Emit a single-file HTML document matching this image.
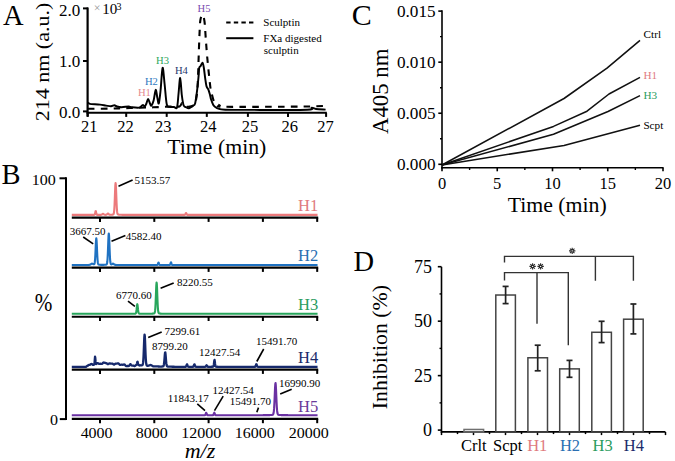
<!DOCTYPE html>
<html><head><meta charset="utf-8"><style>
html,body{margin:0;padding:0;background:#fff;width:675px;height:461px;overflow:hidden}
svg{display:block}
text{font-family:"Liberation Serif", serif}
</style></head><body>
<svg width="675" height="461" viewBox="0 0 675 461">
<rect width="675" height="461" fill="#fff"/>
<text x="3.0" y="25.0" font-size="28.5" text-anchor="start" fill="#000" >A</text>
<line x1="87.60" y1="7.50" x2="87.60" y2="116.50" stroke="#000" stroke-width="2.2" />
<line x1="86.50" y1="112.70" x2="326.80" y2="112.70" stroke="#000" stroke-width="2.0" />
<line x1="83.00" y1="8.40" x2="88.00" y2="8.40" stroke="#000" stroke-width="2" />
<line x1="83.00" y1="61.00" x2="88.00" y2="61.00" stroke="#000" stroke-width="2" />
<line x1="83.00" y1="111.40" x2="88.00" y2="111.40" stroke="#000" stroke-width="2" />
<line x1="87.70" y1="112.70" x2="87.70" y2="116.90" stroke="#000" stroke-width="2" />
<line x1="126.20" y1="112.70" x2="126.20" y2="116.90" stroke="#000" stroke-width="2" />
<line x1="166.70" y1="112.70" x2="166.70" y2="116.90" stroke="#000" stroke-width="2" />
<line x1="206.80" y1="112.70" x2="206.80" y2="116.90" stroke="#000" stroke-width="2" />
<line x1="247.90" y1="112.70" x2="247.90" y2="116.90" stroke="#000" stroke-width="2" />
<line x1="288.00" y1="112.70" x2="288.00" y2="116.90" stroke="#000" stroke-width="2" />
<line x1="326.10" y1="112.70" x2="326.10" y2="116.90" stroke="#000" stroke-width="2" />
<text x="80.2" y="16.4" font-size="17" text-anchor="end" fill="#000" >2.0</text>
<text x="80.2" y="67.2" font-size="17" text-anchor="end" fill="#000" >1.0</text>
<text x="80.2" y="118.2" font-size="17" text-anchor="end" fill="#000" >0.0</text>
<text x="89.3" y="131.8" font-size="16.5" text-anchor="middle" fill="#000" >21</text>
<text x="125.5" y="131.8" font-size="16.5" text-anchor="middle" fill="#000" >22</text>
<text x="163.2" y="131.8" font-size="16.5" text-anchor="middle" fill="#000" >23</text>
<text x="208.3" y="131.8" font-size="16.5" text-anchor="middle" fill="#000" >24</text>
<text x="249.9" y="131.8" font-size="16.5" text-anchor="middle" fill="#000" >25</text>
<text x="289.8" y="131.8" font-size="16.5" text-anchor="middle" fill="#000" >26</text>
<text x="325.4" y="131.8" font-size="16.5" text-anchor="middle" fill="#000" >27</text>
<text x="216.8" y="153.6" font-size="21.8" text-anchor="middle" fill="#000" >Time (min)</text>
<text transform="translate(48.8,62) rotate(-90) scale(1,0.9)" font-size="22" text-anchor="middle">214 nm (a.u.)</text>
<text x="93.8" y="12.0" font-size="12" text-anchor="start" fill="#999" >×</text>
<text x="102.3" y="13.9" font-size="15" text-anchor="start" fill="#000" >10</text>
<text x="116.6" y="9.6" font-size="10" text-anchor="start" fill="#000" >3</text>
<line x1="226.20" y1="22.40" x2="253.40" y2="22.40" stroke="#000" stroke-width="2" stroke-dasharray="4.4 3.2"/>
<line x1="226.20" y1="38.20" x2="253.40" y2="38.20" stroke="#000" stroke-width="2" />
<text x="263.3" y="25.5" font-size="11" text-anchor="start" fill="#000" >Sculptin</text>
<text x="263.3" y="41.6" font-size="11" text-anchor="start" fill="#000" >FXa digested</text>
<text x="263.8" y="53.9" font-size="11" text-anchor="start" fill="#000" >sculptin</text>
<text x="137.9" y="95.9" font-size="10.6" text-anchor="start" fill="#e58b8f" >H1</text>
<text x="144.9" y="84.9" font-size="10.6" text-anchor="start" fill="#2f78c0" >H2</text>
<text x="156.1" y="63.9" font-size="10.6" text-anchor="start" fill="#2fa860" >H3</text>
<text x="174.9" y="73.9" font-size="10.6" text-anchor="start" fill="#27386e" >H4</text>
<text x="197.5" y="11.8" font-size="10.6" text-anchor="start" fill="#7a4bb0" >H5</text>
<path d="M88.00,102.40 C88.20,102.60 88.65,103.32 89.20,103.60 C89.75,103.88 89.50,103.93 91.30,104.10 C93.10,104.27 97.55,104.35 100.00,104.60 C102.45,104.85 104.17,105.32 106.00,105.60 C107.83,105.88 109.60,106.35 111.00,106.30 C112.40,106.25 113.40,105.27 114.40,105.30 C115.40,105.33 115.80,106.18 117.00,106.50 C118.20,106.82 119.65,107.20 121.60,107.20 C123.55,107.20 127.13,106.50 128.70,106.50 C130.27,106.50 129.23,107.02 131.00,107.20 C132.77,107.38 137.35,107.95 139.30,107.60 C141.25,107.25 141.78,105.27 142.70,105.10 C143.62,104.93 144.18,106.87 144.80,106.60 C145.42,106.33 145.85,104.78 146.40,103.50 C146.95,102.22 147.53,98.98 148.10,98.90 C148.67,98.82 149.27,101.88 149.80,103.00 C150.33,104.12 150.67,106.02 151.30,105.60 C151.93,105.18 152.87,103.12 153.60,100.50 C154.33,97.88 155.08,90.40 155.70,89.90 C156.32,89.40 156.78,95.25 157.30,97.50 C157.82,99.75 158.25,104.65 158.80,103.40 C159.35,102.15 159.97,95.92 160.60,90.00 C161.23,84.08 161.93,68.90 162.60,67.90 C163.27,66.90 163.92,77.98 164.60,84.00 C165.28,90.02 165.88,100.20 166.70,104.00 C167.52,107.80 168.28,106.30 169.50,106.80 C170.72,107.30 172.75,106.90 174.00,107.00 C175.25,107.10 176.23,109.73 177.00,107.40 C177.77,105.07 178.07,97.90 178.60,93.00 C179.13,88.10 179.67,77.67 180.20,78.00 C180.73,78.33 181.23,90.47 181.80,95.00 C182.37,99.53 182.90,103.17 183.60,105.20 C184.30,107.23 185.10,106.68 186.00,107.20 C186.90,107.72 187.83,108.57 189.00,108.30 C190.17,108.03 191.98,106.38 193.00,105.60 C194.02,104.82 194.42,106.13 195.10,103.60 C195.78,101.07 196.53,94.83 197.10,90.40 C197.67,85.97 198.15,80.73 198.50,77.00 C198.85,73.27 198.87,69.80 199.20,68.00 C199.53,66.20 199.95,67.10 200.50,66.20 C201.05,65.30 201.95,62.38 202.50,62.60 C203.05,62.82 203.35,64.88 203.80,67.50 C204.25,70.12 204.75,75.17 205.20,78.30 C205.65,81.43 205.97,84.42 206.50,86.30 C207.03,88.18 207.83,88.25 208.40,89.60 C208.97,90.95 209.43,92.70 209.90,94.40 C210.37,96.10 210.63,98.03 211.20,99.80 C211.77,101.57 212.62,103.80 213.30,105.00 C213.98,106.20 214.47,106.40 215.30,107.00 C216.13,107.60 216.62,108.15 218.30,108.60 C219.98,109.05 218.45,109.48 225.40,109.70 C232.35,109.92 246.35,109.88 260.00,109.90 C273.65,109.92 298.67,110.15 307.30,109.80 C315.93,109.45 310.35,107.93 311.80,107.80 C313.25,107.67 313.70,108.70 316.00,109.00 C318.30,109.30 324.00,109.50 325.60,109.60" fill="none" stroke="#000" stroke-width="1.95" stroke-linejoin="round"/>
<path d="M88.00,108.80 C91.67,108.77 103.00,108.73 110.00,108.60 C117.00,108.47 122.83,108.22 130.00,108.00 C137.17,107.78 146.33,107.53 153.00,107.30 C159.67,107.07 165.58,106.75 170.00,106.60 C174.42,106.45 177.50,107.00 179.50,106.40 C181.50,105.80 181.17,103.00 182.00,103.00 C182.83,103.00 183.17,105.82 184.50,106.40 C185.83,106.98 188.33,106.82 190.00,106.50 C191.67,106.18 193.37,106.42 194.50,104.50 C195.63,102.58 196.23,99.08 196.80,95.00 C197.37,90.92 197.60,86.00 197.90,80.00 C198.20,74.00 198.33,66.67 198.60,59.00 C198.87,51.33 199.20,40.50 199.50,34.00 C199.80,27.50 199.88,23.17 200.40,20.00 C200.92,16.83 201.92,14.75 202.60,15.00 C203.28,15.25 203.97,17.50 204.50,21.50 C205.03,25.50 205.35,33.08 205.80,39.00 C206.25,44.92 206.63,50.67 207.20,57.00 C207.77,63.33 208.63,71.67 209.20,77.00 C209.77,82.33 210.15,86.10 210.60,89.00 C211.05,91.90 211.35,92.35 211.90,94.40 C212.45,96.45 213.22,99.77 213.90,101.30 C214.58,102.83 215.03,102.92 216.00,103.60 C216.97,104.28 218.20,104.87 219.70,105.40 C221.20,105.93 211.62,106.60 225.00,106.80 C238.38,107.00 283.50,106.73 300.00,106.60 C316.50,106.47 320.00,106.10 324.00,106.00" fill="none" stroke="#000" stroke-width="2.1" stroke-dasharray="6.6 6.2"/>
<text x="1.5" y="184.2" font-size="28.5" text-anchor="start" fill="#000" >B</text>
<line x1="66.00" y1="177.30" x2="66.00" y2="420.10" stroke="#000" stroke-width="2" />
<line x1="59.50" y1="178.30" x2="66.00" y2="178.30" stroke="#000" stroke-width="2" />
<line x1="59.80" y1="419.10" x2="66.00" y2="419.10" stroke="#000" stroke-width="2" />
<text transform="translate(55.8,185.2) scale(1,0.92)" font-size="16" text-anchor="end">100</text>
<text transform="translate(58,425.2) scale(1,0.92)" font-size="16" text-anchor="end">0</text>
<text transform="translate(43.5,311.3) scale(0.9,1.08)" font-size="23.5" text-anchor="middle">%</text>
<line x1="71.80" y1="217.60" x2="318.20" y2="217.60" stroke="#000" stroke-width="2.1" />
<line x1="100.00" y1="217.60" x2="100.00" y2="221.90" stroke="#000" stroke-width="2" />
<line x1="154.30" y1="217.60" x2="154.30" y2="221.90" stroke="#000" stroke-width="2" />
<line x1="208.60" y1="217.60" x2="208.60" y2="221.90" stroke="#000" stroke-width="2" />
<line x1="262.90" y1="217.60" x2="262.90" y2="221.90" stroke="#000" stroke-width="2" />
<line x1="317.20" y1="217.60" x2="317.20" y2="221.90" stroke="#000" stroke-width="2" />
<line x1="71.80" y1="267.60" x2="318.20" y2="267.60" stroke="#000" stroke-width="2.1" />
<line x1="100.00" y1="267.60" x2="100.00" y2="271.90" stroke="#000" stroke-width="2" />
<line x1="154.30" y1="267.60" x2="154.30" y2="271.90" stroke="#000" stroke-width="2" />
<line x1="208.60" y1="267.60" x2="208.60" y2="271.90" stroke="#000" stroke-width="2" />
<line x1="262.90" y1="267.60" x2="262.90" y2="271.90" stroke="#000" stroke-width="2" />
<line x1="317.20" y1="267.60" x2="317.20" y2="271.90" stroke="#000" stroke-width="2" />
<line x1="71.80" y1="316.70" x2="318.20" y2="316.70" stroke="#000" stroke-width="2.1" />
<line x1="100.00" y1="316.70" x2="100.00" y2="321.00" stroke="#000" stroke-width="2" />
<line x1="154.30" y1="316.70" x2="154.30" y2="321.00" stroke="#000" stroke-width="2" />
<line x1="208.60" y1="316.70" x2="208.60" y2="321.00" stroke="#000" stroke-width="2" />
<line x1="262.90" y1="316.70" x2="262.90" y2="321.00" stroke="#000" stroke-width="2" />
<line x1="317.20" y1="316.70" x2="317.20" y2="321.00" stroke="#000" stroke-width="2" />
<line x1="71.80" y1="369.60" x2="318.20" y2="369.60" stroke="#000" stroke-width="2.1" />
<line x1="100.00" y1="369.60" x2="100.00" y2="373.90" stroke="#000" stroke-width="2" />
<line x1="154.30" y1="369.60" x2="154.30" y2="373.90" stroke="#000" stroke-width="2" />
<line x1="208.60" y1="369.60" x2="208.60" y2="373.90" stroke="#000" stroke-width="2" />
<line x1="262.90" y1="369.60" x2="262.90" y2="373.90" stroke="#000" stroke-width="2" />
<line x1="317.20" y1="369.60" x2="317.20" y2="373.90" stroke="#000" stroke-width="2" />
<line x1="71.80" y1="418.90" x2="318.20" y2="418.90" stroke="#000" stroke-width="2.1" />
<line x1="100.00" y1="418.90" x2="100.00" y2="423.20" stroke="#000" stroke-width="2" />
<line x1="154.30" y1="418.90" x2="154.30" y2="423.20" stroke="#000" stroke-width="2" />
<line x1="208.60" y1="418.90" x2="208.60" y2="423.20" stroke="#000" stroke-width="2" />
<line x1="262.90" y1="418.90" x2="262.90" y2="423.20" stroke="#000" stroke-width="2" />
<line x1="317.20" y1="418.90" x2="317.20" y2="423.20" stroke="#000" stroke-width="2" />
<path d="M71.80,214.90 L72.05,214.90 L72.30,214.90 L72.55,214.90 L72.80,214.90 L73.05,214.90 L73.30,214.90 L73.55,214.90 L73.80,214.90 L74.05,214.90 L74.30,214.90 L74.55,214.90 L74.80,214.90 L75.05,214.90 L75.30,214.90 L75.55,214.90 L75.80,214.90 L76.05,214.90 L76.30,214.90 L76.55,214.90 L76.80,214.90 L77.05,214.90 L77.30,214.90 L77.55,214.90 L77.80,214.90 L78.05,214.90 L78.30,214.90 L78.55,214.90 L78.80,214.90 L79.05,214.90 L79.30,214.90 L79.55,214.90 L79.80,214.90 L80.05,214.90 L80.30,214.90 L80.55,214.90 L80.80,214.90 L81.05,214.90 L81.30,214.90 L81.55,214.90 L81.80,214.90 L82.05,214.90 L82.30,214.90 L82.55,214.90 L82.80,214.90 L83.05,214.90 L83.30,214.90 L83.55,214.90 L83.80,214.90 L84.05,214.90 L84.30,214.90 L84.55,214.90 L84.80,214.90 L85.05,214.90 L85.30,214.89 L85.55,214.89 L85.80,214.89 L86.05,214.89 L86.30,214.89 L86.55,214.89 L86.80,214.89 L87.05,214.89 L87.30,214.89 L87.55,214.89 L87.80,214.89 L88.05,214.89 L88.30,214.89 L88.55,214.89 L88.80,214.89 L89.05,214.89 L89.30,214.89 L89.55,214.89 L89.80,214.89 L90.05,214.89 L90.30,214.89 L90.55,214.89 L90.80,214.89 L91.05,214.89 L91.30,214.89 L91.55,214.89 L91.80,214.88 L92.05,214.88 L92.30,214.88 L92.55,214.88 L92.80,214.88 L93.05,214.87 L93.30,214.87 L93.55,214.86 L93.80,214.86 L94.05,214.84 L94.30,214.82 L94.55,214.72 L94.80,214.40 L95.05,213.63 L95.30,212.37 L95.55,211.23 L95.80,211.10 L96.05,212.10 L96.30,213.40 L96.55,214.29 L96.80,214.68 L97.05,214.80 L97.30,214.84 L97.55,214.85 L97.80,214.86 L98.05,214.86 L98.30,214.86 L98.55,214.87 L98.80,214.87 L99.05,214.87 L99.30,214.87 L99.55,214.87 L99.80,214.87 L100.05,214.87 L100.30,214.87 L100.55,214.86 L100.80,214.85 L101.05,214.83 L101.30,214.80 L101.55,214.72 L101.80,214.60 L102.05,214.42 L102.30,214.20 L102.55,213.98 L102.80,213.82 L103.05,213.78 L103.30,213.87 L103.55,214.06 L103.80,214.28 L104.05,214.49 L104.30,214.64 L104.55,214.74 L104.80,214.80 L105.05,214.82 L105.30,214.83 L105.55,214.83 L105.80,214.82 L106.05,214.80 L106.30,214.76 L106.55,214.67 L106.80,214.52 L107.05,214.31 L107.30,214.05 L107.55,213.79 L107.80,213.60 L108.05,213.55 L108.30,213.65 L108.55,213.87 L108.80,214.14 L109.05,214.38 L109.30,214.56 L109.55,214.68 L109.80,214.74 L110.05,214.76 L110.30,214.77 L110.55,214.77 L110.80,214.76 L111.05,214.75 L111.30,214.74 L111.55,214.72 L111.80,214.70 L112.05,214.68 L112.30,214.65 L112.55,214.61 L112.80,214.56 L113.05,214.48 L113.30,214.35 L113.55,214.06 L113.80,213.40 L114.05,212.01 L114.30,209.35 L114.55,204.97 L114.80,198.85 L115.05,191.90 L115.30,185.92 L115.55,182.99 L115.80,184.28 L116.05,189.27 L116.30,196.09 L116.55,202.70 L116.80,207.82 L117.05,211.13 L117.30,212.96 L117.55,213.86 L117.80,214.26 L118.05,214.44 L118.30,214.54 L118.55,214.60 L118.80,214.64 L119.05,214.67 L119.30,214.70 L119.55,214.72 L119.80,214.74 L120.05,214.76 L120.30,214.77 L120.55,214.78 L120.80,214.80 L121.05,214.80 L121.30,214.81 L121.55,214.82 L121.80,214.83 L122.05,214.83 L122.30,214.84 L122.55,214.84 L122.80,214.84 L123.05,214.85 L123.30,214.85 L123.55,214.85 L123.80,214.86 L124.05,214.86 L124.30,214.86 L124.55,214.86 L124.80,214.87 L125.05,214.87 L125.30,214.87 L125.55,214.87 L125.80,214.87 L126.05,214.87 L126.30,214.87 L126.55,214.88 L126.80,214.88 L127.05,214.88 L127.30,214.88 L127.55,214.88 L127.80,214.88 L128.05,214.88 L128.30,214.88 L128.55,214.88 L128.80,214.88 L129.05,214.88 L129.30,214.88 L129.55,214.88 L129.80,214.89 L130.05,214.89 L130.30,214.89 L130.55,214.89 L130.80,214.89 L131.05,214.89 L131.30,214.89 L131.55,214.89 L131.80,214.89 L132.05,214.89 L132.30,214.89 L132.55,214.89 L132.80,214.89 L133.05,214.89 L133.30,214.89 L133.55,214.89 L133.80,214.89 L134.05,214.89 L134.30,214.89 L134.55,214.89 L134.80,214.89 L135.05,214.89 L135.30,214.89 L135.55,214.89 L135.80,214.89 L136.05,214.89 L136.30,214.89 L136.55,214.89 L136.80,214.89 L137.05,214.89 L137.30,214.89 L137.55,214.89 L137.80,214.89 L138.05,214.89 L138.30,214.89 L138.55,214.89 L138.80,214.89 L139.05,214.89 L139.30,214.89 L139.55,214.89 L139.80,214.89 L140.05,214.89 L140.30,214.89 L140.55,214.90 L140.80,214.90 L141.05,214.90 L141.30,214.90 L141.55,214.90 L141.80,214.90 L142.05,214.90 L142.30,214.90 L142.55,214.90 L142.80,214.90 L143.05,214.90 L143.30,214.90 L143.55,214.90 L143.80,214.90 L144.05,214.90 L144.30,214.90 L144.55,214.90 L144.80,214.90 L145.05,214.90 L145.30,214.90 L145.55,214.90 L145.80,214.90 L146.05,214.90 L146.30,214.90 L146.55,214.90 L146.80,214.90 L147.05,214.90 L147.30,214.90 L147.55,214.90 L147.80,214.90 L148.05,214.90 L148.30,214.90 L148.55,214.90 L148.80,214.90 L149.05,214.90 L149.30,214.90 L149.55,214.90 L149.80,214.90 L150.05,214.90 L150.30,214.90 L150.55,214.90 L150.80,214.90 L151.05,214.90 L151.30,214.90 L151.55,214.90 L151.80,214.90 L152.05,214.90 L152.30,214.90 L152.55,214.90 L152.80,214.90 L153.05,214.90 L153.30,214.90 L153.55,214.90 L153.80,214.90 L154.05,214.90 L154.30,214.90 L154.55,214.90 L154.80,214.90 L155.05,214.90 L155.30,214.90 L155.55,214.90 L155.80,214.90 L156.05,214.90 L156.30,214.90 L156.55,214.90 L156.80,214.90 L157.05,214.90 L157.30,214.90 L157.55,214.90 L157.80,214.90 L158.05,214.90 L158.30,214.90 L158.55,214.90 L158.80,214.90 L159.05,214.90 L159.30,214.90 L159.55,214.90 L159.80,214.90 L160.05,214.90 L160.30,214.90 L160.55,214.90 L160.80,214.90 L161.05,214.90 L161.30,214.90 L161.55,214.90 L161.80,214.90 L162.05,214.90 L162.30,214.90 L162.55,214.90 L162.80,214.90 L163.05,214.90 L163.30,214.90 L163.55,214.90 L163.80,214.90 L164.05,214.90 L164.30,214.90 L164.55,214.90 L164.80,214.90 L165.05,214.90 L165.30,214.90 L165.55,214.90 L165.80,214.90 L166.05,214.90 L166.30,214.90 L166.55,214.90 L166.80,214.90 L167.05,214.90 L167.30,214.90 L167.55,214.90 L167.80,214.90 L168.05,214.90 L168.30,214.90 L168.55,214.90 L168.80,214.90 L169.05,214.90 L169.30,214.90 L169.55,214.90 L169.80,214.90 L170.05,214.90 L170.30,214.90 L170.55,214.90 L170.80,214.90 L171.05,214.90 L171.30,214.90 L171.55,214.90 L171.80,214.90 L172.05,214.90 L172.30,214.90 L172.55,214.90 L172.80,214.90 L173.05,214.90 L173.30,214.90 L173.55,214.90 L173.80,214.90 L174.05,214.90 L174.30,214.90 L174.55,214.90 L174.80,214.90 L175.05,214.90 L175.30,214.90 L175.55,214.90 L175.80,214.90 L176.05,214.90 L176.30,214.90 L176.55,214.90 L176.80,214.90 L177.05,214.90 L177.30,214.90 L177.55,214.90 L177.80,214.90 L178.05,214.90 L178.30,214.90 L178.55,214.90 L178.80,214.90 L179.05,214.90 L179.30,214.90 L179.55,214.90 L179.80,214.90 L180.05,214.90 L180.30,214.90 L180.55,214.90 L180.80,214.90 L181.05,214.90 L181.30,214.90 L181.55,214.90 L181.80,214.90 L182.05,214.90 L182.30,214.89 L182.55,214.89 L182.80,214.89 L183.05,214.89 L183.30,214.89 L183.55,214.89 L183.80,214.89 L184.05,214.88 L184.30,214.88 L184.55,214.87 L184.80,214.83 L185.05,214.71 L185.30,214.38 L185.55,213.80 L185.80,213.20 L186.05,213.01 L186.30,213.42 L186.55,214.06 L186.80,214.54 L187.05,214.77 L187.30,214.85 L187.55,214.87 L187.80,214.88 L188.05,214.88 L188.30,214.89 L188.55,214.89 L188.80,214.89 L189.05,214.89 L189.30,214.89 L189.55,214.89 L189.80,214.89 L190.05,214.90 L190.30,214.90 L190.55,214.90 L190.80,214.90 L191.05,214.90 L191.30,214.90 L191.55,214.90 L191.80,214.90 L192.05,214.90 L192.30,214.90 L192.55,214.90 L192.80,214.90 L193.05,214.90 L193.30,214.90 L193.55,214.90 L193.80,214.90 L194.05,214.90 L194.30,214.90 L194.55,214.90 L194.80,214.90 L195.05,214.90 L195.30,214.90 L195.55,214.90 L195.80,214.90 L196.05,214.90 L196.30,214.90 L196.55,214.90 L196.80,214.90 L197.05,214.90 L197.30,214.90 L197.55,214.90 L197.80,214.90 L198.05,214.90 L198.30,214.90 L198.55,214.90 L198.80,214.90 L199.05,214.90 L199.30,214.90 L199.55,214.90 L199.80,214.90 L200.05,214.90 L200.30,214.90 L200.55,214.90 L200.80,214.90 L201.05,214.90 L201.30,214.90 L201.55,214.90 L201.80,214.90 L202.05,214.90 L202.30,214.90 L202.55,214.90 L202.80,214.90 L203.05,214.90 L203.30,214.90 L203.55,214.90 L203.80,214.90 L204.05,214.90 L204.30,214.90 L204.55,214.90 L204.80,214.90 L205.05,214.90 L205.30,214.90 L205.55,214.90 L205.80,214.90 L206.05,214.90 L206.30,214.90 L206.55,214.90 L206.80,214.90 L207.05,214.90 L207.30,214.90 L207.55,214.90 L207.80,214.90 L208.05,214.90 L208.30,214.90 L208.55,214.90 L208.80,214.90 L209.05,214.90 L209.30,214.90 L209.55,214.90 L209.80,214.90 L210.05,214.90 L210.30,214.90 L210.55,214.90 L210.80,214.90 L211.05,214.90 L211.30,214.90 L211.55,214.90 L211.80,214.90 L212.05,214.90 L212.30,214.90 L212.55,214.90 L212.80,214.90 L213.05,214.90 L213.30,214.90 L213.55,214.90 L213.80,214.90 L214.05,214.90 L214.30,214.90 L214.55,214.90 L214.80,214.90 L215.05,214.90 L215.30,214.90 L215.55,214.90 L215.80,214.90 L216.05,214.90 L216.30,214.90 L216.55,214.90 L216.80,214.90 L217.05,214.90 L217.30,214.90 L217.55,214.90 L217.80,214.90 L218.05,214.90 L218.30,214.90 L218.55,214.90 L218.80,214.90 L219.05,214.90 L219.30,214.90 L219.55,214.90 L219.80,214.90 L220.05,214.90 L220.30,214.90 L220.55,214.90 L220.80,214.90 L221.05,214.90 L221.30,214.90 L221.55,214.90 L221.80,214.90 L222.05,214.90 L222.30,214.90 L222.55,214.90 L222.80,214.90 L223.05,214.90 L223.30,214.90 L223.55,214.90 L223.80,214.90 L224.05,214.90 L224.30,214.90 L224.55,214.90 L224.80,214.90 L225.05,214.90 L225.30,214.90 L225.55,214.90 L225.80,214.90 L226.05,214.90 L226.30,214.90 L226.55,214.90 L226.80,214.90 L227.05,214.90 L227.30,214.90 L227.55,214.90 L227.80,214.90 L228.05,214.90 L228.30,214.90 L228.55,214.90 L228.80,214.90 L229.05,214.90 L229.30,214.90 L229.55,214.90 L229.80,214.90 L230.05,214.90 L230.30,214.90 L230.55,214.90 L230.80,214.90 L231.05,214.90 L231.30,214.90 L231.55,214.90 L231.80,214.90 L232.05,214.90 L232.30,214.90 L232.55,214.90 L232.80,214.90 L233.05,214.90 L233.30,214.90 L233.55,214.90 L233.80,214.90 L234.05,214.90 L234.30,214.90 L234.55,214.90 L234.80,214.90 L235.05,214.90 L235.30,214.90 L235.55,214.90 L235.80,214.90 L236.05,214.90 L236.30,214.90 L236.55,214.90 L236.80,214.90 L237.05,214.90 L237.30,214.90 L237.55,214.90 L237.80,214.90 L238.05,214.90 L238.30,214.90 L238.55,214.90 L238.80,214.90 L239.05,214.90 L239.30,214.90 L239.55,214.90 L239.80,214.90 L240.05,214.90 L240.30,214.90 L240.55,214.90 L240.80,214.90 L241.05,214.90 L241.30,214.90 L241.55,214.90 L241.80,214.90 L242.05,214.90 L242.30,214.90 L242.55,214.90 L242.80,214.90 L243.05,214.90 L243.30,214.90 L243.55,214.90 L243.80,214.90 L244.05,214.90 L244.30,214.90 L244.55,214.90 L244.80,214.90 L245.05,214.90 L245.30,214.90 L245.55,214.90 L245.80,214.90 L246.05,214.90 L246.30,214.90 L246.55,214.90 L246.80,214.90 L247.05,214.90 L247.30,214.90 L247.55,214.90 L247.80,214.90 L248.05,214.90 L248.30,214.90 L248.55,214.90 L248.80,214.90 L249.05,214.90 L249.30,214.90 L249.55,214.90 L249.80,214.90 L250.05,214.90 L250.30,214.90 L250.55,214.90 L250.80,214.90 L251.05,214.90 L251.30,214.90 L251.55,214.90 L251.80,214.90 L252.05,214.90 L252.30,214.90 L252.55,214.90 L252.80,214.90 L253.05,214.90 L253.30,214.90 L253.55,214.90 L253.80,214.90 L254.05,214.90 L254.30,214.90 L254.55,214.90 L254.80,214.90 L255.05,214.90 L255.30,214.90 L255.55,214.90 L255.80,214.90 L256.05,214.90 L256.30,214.90 L256.55,214.90 L256.80,214.90 L257.05,214.90 L257.30,214.90 L257.55,214.90 L257.80,214.90 L258.05,214.90 L258.30,214.90 L258.55,214.90 L258.80,214.90 L259.05,214.90 L259.30,214.90 L259.55,214.90 L259.80,214.90 L260.05,214.90 L260.30,214.90 L260.55,214.90 L260.80,214.90 L261.05,214.90 L261.30,214.90 L261.55,214.90 L261.80,214.90 L262.05,214.90 L262.30,214.90 L262.55,214.90 L262.80,214.90 L263.05,214.90 L263.30,214.90 L263.55,214.90 L263.80,214.90 L264.05,214.90 L264.30,214.90 L264.55,214.90 L264.80,214.90 L265.05,214.90 L265.30,214.90 L265.55,214.90 L265.80,214.90 L266.05,214.90 L266.30,214.90 L266.55,214.90 L266.80,214.90 L267.05,214.90 L267.30,214.90 L267.55,214.90 L267.80,214.90 L268.05,214.90 L268.30,214.90 L268.55,214.90 L268.80,214.90 L269.05,214.90 L269.30,214.90 L269.55,214.90 L269.80,214.90 L270.05,214.90 L270.30,214.90 L270.55,214.90 L270.80,214.90 L271.05,214.90 L271.30,214.90 L271.55,214.90 L271.80,214.90 L272.05,214.90 L272.30,214.90 L272.55,214.90 L272.80,214.90 L273.05,214.90 L273.30,214.90 L273.55,214.90 L273.80,214.90 L274.05,214.90 L274.30,214.90 L274.55,214.90 L274.80,214.90 L275.05,214.90 L275.30,214.90 L275.55,214.90 L275.80,214.90 L276.05,214.90 L276.30,214.90 L276.55,214.90 L276.80,214.90 L277.05,214.90 L277.30,214.90 L277.55,214.90 L277.80,214.90 L278.05,214.90 L278.30,214.90 L278.55,214.90 L278.80,214.90 L279.05,214.90 L279.30,214.90 L279.55,214.90 L279.80,214.90 L280.05,214.90 L280.30,214.90 L280.55,214.90 L280.80,214.90 L281.05,214.90 L281.30,214.90 L281.55,214.90 L281.80,214.90 L282.05,214.90 L282.30,214.90 L282.55,214.90 L282.80,214.90 L283.05,214.90 L283.30,214.90 L283.55,214.90 L283.80,214.90 L284.05,214.90 L284.30,214.90 L284.55,214.90 L284.80,214.90 L285.05,214.90 L285.30,214.90 L285.55,214.90 L285.80,214.90 L286.05,214.90 L286.30,214.90 L286.55,214.90 L286.80,214.90 L287.05,214.90 L287.30,214.90 L287.55,214.90 L287.80,214.90 L288.05,214.90 L288.30,214.90 L288.55,214.90 L288.80,214.90 L289.05,214.90 L289.30,214.90 L289.55,214.90 L289.80,214.90 L290.05,214.90 L290.30,214.90 L290.55,214.90 L290.80,214.90 L291.05,214.90 L291.30,214.90 L291.55,214.90 L291.80,214.90 L292.05,214.90 L292.30,214.90 L292.55,214.90 L292.80,214.90 L293.05,214.90 L293.30,214.90 L293.55,214.90 L293.80,214.90 L294.05,214.90 L294.30,214.90 L294.55,214.90 L294.80,214.90 L295.05,214.90 L295.30,214.90 L295.55,214.90 L295.80,214.90 L296.05,214.90 L296.30,214.90 L296.55,214.90 L296.80,214.90 L297.05,214.90 L297.30,214.90 L297.55,214.90 L297.80,214.90 L298.05,214.90 L298.30,214.90 L298.55,214.90 L298.80,214.90 L299.05,214.90 L299.30,214.90 L299.55,214.90 L299.80,214.90 L300.05,214.90 L300.30,214.90 L300.55,214.90 L300.80,214.90 L301.05,214.90 L301.30,214.90 L301.55,214.90 L301.80,214.90 L302.05,214.90 L302.30,214.90 L302.55,214.90 L302.80,214.90 L303.05,214.90 L303.30,214.90 L303.55,214.90 L303.80,214.90 L304.05,214.90 L304.30,214.90 L304.55,214.90 L304.80,214.90 L305.05,214.90 L305.30,214.90 L305.55,214.90 L305.80,214.90 L306.05,214.90 L306.30,214.90 L306.55,214.90 L306.80,214.90 L307.05,214.90 L307.30,214.90 L307.55,214.90 L307.80,214.90 L308.05,214.90 L308.30,214.90 L308.55,214.90 L308.80,214.90 L309.05,214.90 L309.30,214.90 L309.55,214.90 L309.80,214.90 L310.05,214.90 L310.30,214.90 L310.55,214.90 L310.80,214.90 L311.05,214.90 L311.30,214.90 L311.55,214.90 L311.80,214.90 L312.05,214.90 L312.30,214.90 L312.55,214.90 L312.80,214.90 L313.05,214.90 L313.30,214.90 L313.55,214.90 L313.80,214.90 L314.05,214.90 L314.30,214.90 L314.55,214.90 L314.80,214.90 L315.05,214.90 L315.30,214.90 L315.55,214.90 L315.80,214.90 L316.05,214.90 L316.30,214.90 L316.55,214.90 L316.80,214.90 L317.05,214.90 L317.30,214.90 L317.55,214.90" fill="none" stroke="#ec7a7c" stroke-width="2.1" stroke-linejoin="round"/>
<path d="M71.80,264.99 L72.05,264.99 L72.30,264.99 L72.55,264.99 L72.80,264.99 L73.05,264.99 L73.30,264.99 L73.55,264.99 L73.80,264.99 L74.05,264.99 L74.30,264.99 L74.55,264.99 L74.80,264.99 L75.05,264.99 L75.30,264.99 L75.55,264.99 L75.80,264.99 L76.05,264.99 L76.30,264.99 L76.55,264.99 L76.80,264.99 L77.05,264.99 L77.30,264.99 L77.55,264.99 L77.80,264.99 L78.05,264.99 L78.30,264.99 L78.55,264.99 L78.80,264.99 L79.05,264.99 L79.30,264.99 L79.55,264.99 L79.80,264.99 L80.05,264.99 L80.30,264.98 L80.55,264.98 L80.80,264.98 L81.05,264.98 L81.30,264.98 L81.55,264.98 L81.80,264.98 L82.05,264.98 L82.30,264.98 L82.55,264.98 L82.80,264.98 L83.05,264.98 L83.30,264.98 L83.55,264.98 L83.80,264.98 L84.05,264.98 L84.30,264.97 L84.55,264.97 L84.80,264.97 L85.05,264.97 L85.30,264.97 L85.55,264.97 L85.80,264.97 L86.05,264.96 L86.30,264.96 L86.55,264.96 L86.80,264.96 L87.05,264.96 L87.30,264.95 L87.55,264.95 L87.80,264.95 L88.05,264.94 L88.30,264.94 L88.55,264.93 L88.80,264.92 L89.05,264.90 L89.30,264.87 L89.55,264.83 L89.80,264.77 L90.05,264.69 L90.30,264.57 L90.55,264.43 L90.80,264.27 L91.05,264.10 L91.30,263.93 L91.55,263.79 L91.80,263.70 L92.05,263.66 L92.30,263.69 L92.55,263.78 L92.80,263.90 L93.05,264.04 L93.30,264.17 L93.55,264.27 L93.80,264.32 L94.05,264.29 L94.30,264.07 L94.55,263.48 L94.80,262.17 L95.05,259.71 L95.30,255.75 L95.55,250.43 L95.80,244.66 L96.05,240.05 L96.30,238.27 L96.55,240.05 L96.80,244.66 L97.05,250.44 L97.30,255.77 L97.55,259.74 L97.80,262.22 L98.05,263.55 L98.30,264.19 L98.55,264.47 L98.80,264.60 L99.05,264.67 L99.30,264.72 L99.55,264.75 L99.80,264.78 L100.05,264.80 L100.30,264.81 L100.55,264.83 L100.80,264.84 L101.05,264.85 L101.30,264.85 L101.55,264.86 L101.80,264.86 L102.05,264.86 L102.30,264.86 L102.55,264.86 L102.80,264.86 L103.05,264.86 L103.30,264.86 L103.55,264.85 L103.80,264.84 L104.05,264.84 L104.30,264.82 L104.55,264.81 L104.80,264.79 L105.05,264.77 L105.30,264.75 L105.55,264.72 L105.80,264.68 L106.05,264.63 L106.30,264.55 L106.55,264.39 L106.80,264.06 L107.05,263.30 L107.30,261.73 L107.55,258.80 L107.80,254.12 L108.05,247.83 L108.30,241.02 L108.55,235.58 L108.80,233.47 L109.05,235.57 L109.30,241.02 L109.55,247.83 L109.80,254.11 L110.05,258.79 L110.30,261.72 L110.55,263.28 L110.80,264.01 L111.05,264.30 L111.30,264.38 L111.55,264.35 L111.80,264.24 L112.05,264.09 L112.30,263.92 L112.55,263.76 L112.80,263.66 L113.05,263.64 L113.30,263.73 L113.55,263.90 L113.80,264.11 L114.05,264.32 L114.30,264.51 L114.55,264.66 L114.80,264.76 L115.05,264.83 L115.30,264.87 L115.55,264.90 L115.80,264.91 L116.05,264.92 L116.30,264.93 L116.55,264.93 L116.80,264.94 L117.05,264.94 L117.30,264.95 L117.55,264.95 L117.80,264.95 L118.05,264.96 L118.30,264.96 L118.55,264.96 L118.80,264.96 L119.05,264.96 L119.30,264.97 L119.55,264.97 L119.80,264.97 L120.05,264.97 L120.30,264.97 L120.55,264.97 L120.80,264.97 L121.05,264.97 L121.30,264.98 L121.55,264.98 L121.80,264.98 L122.05,264.98 L122.30,264.98 L122.55,264.98 L122.80,264.98 L123.05,264.98 L123.30,264.98 L123.55,264.98 L123.80,264.98 L124.05,264.98 L124.30,264.98 L124.55,264.98 L124.80,264.98 L125.05,264.98 L125.30,264.99 L125.55,264.99 L125.80,264.99 L126.05,264.99 L126.30,264.99 L126.55,264.99 L126.80,264.99 L127.05,264.99 L127.30,264.99 L127.55,264.99 L127.80,264.99 L128.05,264.99 L128.30,264.99 L128.55,264.99 L128.80,264.99 L129.05,264.99 L129.30,264.99 L129.55,264.99 L129.80,264.99 L130.05,264.99 L130.30,264.99 L130.55,264.99 L130.80,264.99 L131.05,264.99 L131.30,264.99 L131.55,264.99 L131.80,264.99 L132.05,264.99 L132.30,264.99 L132.55,264.99 L132.80,264.99 L133.05,264.99 L133.30,264.99 L133.55,264.99 L133.80,264.99 L134.05,264.99 L134.30,264.99 L134.55,264.99 L134.80,264.99 L135.05,264.99 L135.30,264.99 L135.55,264.99 L135.80,264.99 L136.05,264.99 L136.30,264.99 L136.55,264.99 L136.80,264.99 L137.05,264.99 L137.30,264.99 L137.55,264.99 L137.80,264.99 L138.05,264.99 L138.30,264.99 L138.55,264.99 L138.80,264.99 L139.05,264.99 L139.30,264.99 L139.55,264.99 L139.80,265.00 L140.05,265.00 L140.30,265.00 L140.55,265.00 L140.80,265.00 L141.05,265.00 L141.30,265.00 L141.55,265.00 L141.80,265.00 L142.05,265.00 L142.30,265.00 L142.55,265.00 L142.80,265.00 L143.05,265.00 L143.30,265.00 L143.55,265.00 L143.80,265.00 L144.05,265.00 L144.30,265.00 L144.55,265.00 L144.80,265.00 L145.05,265.00 L145.30,265.00 L145.55,265.00 L145.80,265.00 L146.05,265.00 L146.30,265.00 L146.55,265.00 L146.80,265.00 L147.05,265.00 L147.30,265.00 L147.55,265.00 L147.80,265.00 L148.05,265.00 L148.30,265.00 L148.55,265.00 L148.80,265.00 L149.05,265.00 L149.30,265.00 L149.55,265.00 L149.80,265.00 L150.05,265.00 L150.30,265.00 L150.55,265.00 L150.80,265.00 L151.05,265.00 L151.30,265.00 L151.55,265.00 L151.80,265.00 L152.05,265.00 L152.30,264.99 L152.55,264.99 L152.80,264.99 L153.05,264.99 L153.30,264.99 L153.55,264.99 L153.80,264.99 L154.05,264.99 L154.30,264.99 L154.55,264.99 L154.80,264.99 L155.05,264.99 L155.30,264.99 L155.55,264.99 L155.80,264.99 L156.05,264.98 L156.30,264.98 L156.55,264.98 L156.80,264.97 L157.05,264.95 L157.30,264.91 L157.55,264.74 L157.80,264.31 L158.05,263.56 L158.30,262.76 L158.55,262.51 L158.80,263.05 L159.05,263.89 L159.30,264.53 L159.55,264.83 L159.80,264.93 L160.05,264.96 L160.30,264.97 L160.55,264.98 L160.80,264.98 L161.05,264.98 L161.30,264.99 L161.55,264.99 L161.80,264.99 L162.05,264.99 L162.30,264.99 L162.55,264.99 L162.80,264.99 L163.05,264.99 L163.30,264.99 L163.55,264.99 L163.80,264.99 L164.05,264.99 L164.30,264.99 L164.55,264.99 L164.80,264.99 L165.05,264.99 L165.30,264.99 L165.55,264.99 L165.80,264.99 L166.05,264.99 L166.30,264.99 L166.55,264.99 L166.80,264.99 L167.05,264.99 L167.30,264.99 L167.55,264.99 L167.80,264.99 L168.05,264.99 L168.30,264.98 L168.55,264.98 L168.80,264.98 L169.05,264.97 L169.30,264.97 L169.55,264.95 L169.80,264.90 L170.05,264.72 L170.30,264.26 L170.55,263.44 L170.80,262.58 L171.05,262.32 L171.30,262.89 L171.55,263.80 L171.80,264.49 L172.05,264.82 L172.30,264.93 L172.55,264.96 L172.80,264.97 L173.05,264.98 L173.30,264.98 L173.55,264.98 L173.80,264.99 L174.05,264.99 L174.30,264.99 L174.55,264.99 L174.80,264.99 L175.05,264.99 L175.30,264.99 L175.55,264.99 L175.80,264.99 L176.05,264.99 L176.30,265.00 L176.55,265.00 L176.80,265.00 L177.05,265.00 L177.30,265.00 L177.55,265.00 L177.80,265.00 L178.05,265.00 L178.30,265.00 L178.55,265.00 L178.80,265.00 L179.05,265.00 L179.30,265.00 L179.55,265.00 L179.80,265.00 L180.05,265.00 L180.30,265.00 L180.55,265.00 L180.80,265.00 L181.05,265.00 L181.30,265.00 L181.55,265.00 L181.80,265.00 L182.05,265.00 L182.30,265.00 L182.55,265.00 L182.80,265.00 L183.05,265.00 L183.30,265.00 L183.55,265.00 L183.80,265.00 L184.05,265.00 L184.30,265.00 L184.55,265.00 L184.80,265.00 L185.05,265.00 L185.30,265.00 L185.55,265.00 L185.80,265.00 L186.05,265.00 L186.30,265.00 L186.55,265.00 L186.80,265.00 L187.05,265.00 L187.30,265.00 L187.55,265.00 L187.80,265.00 L188.05,265.00 L188.30,265.00 L188.55,265.00 L188.80,265.00 L189.05,265.00 L189.30,265.00 L189.55,265.00 L189.80,265.00 L190.05,265.00 L190.30,265.00 L190.55,265.00 L190.80,265.00 L191.05,265.00 L191.30,265.00 L191.55,265.00 L191.80,265.00 L192.05,265.00 L192.30,265.00 L192.55,265.00 L192.80,265.00 L193.05,265.00 L193.30,265.00 L193.55,265.00 L193.80,265.00 L194.05,265.00 L194.30,265.00 L194.55,265.00 L194.80,265.00 L195.05,265.00 L195.30,265.00 L195.55,265.00 L195.80,265.00 L196.05,265.00 L196.30,265.00 L196.55,265.00 L196.80,265.00 L197.05,265.00 L197.30,265.00 L197.55,265.00 L197.80,265.00 L198.05,265.00 L198.30,265.00 L198.55,265.00 L198.80,265.00 L199.05,265.00 L199.30,265.00 L199.55,265.00 L199.80,265.00 L200.05,265.00 L200.30,265.00 L200.55,265.00 L200.80,265.00 L201.05,265.00 L201.30,265.00 L201.55,265.00 L201.80,265.00 L202.05,265.00 L202.30,265.00 L202.55,265.00 L202.80,265.00 L203.05,265.00 L203.30,265.00 L203.55,265.00 L203.80,265.00 L204.05,265.00 L204.30,265.00 L204.55,265.00 L204.80,265.00 L205.05,265.00 L205.30,265.00 L205.55,265.00 L205.80,265.00 L206.05,265.00 L206.30,265.00 L206.55,265.00 L206.80,265.00 L207.05,265.00 L207.30,265.00 L207.55,265.00 L207.80,265.00 L208.05,265.00 L208.30,265.00 L208.55,265.00 L208.80,265.00 L209.05,265.00 L209.30,265.00 L209.55,265.00 L209.80,265.00 L210.05,265.00 L210.30,265.00 L210.55,265.00 L210.80,265.00 L211.05,265.00 L211.30,265.00 L211.55,265.00 L211.80,265.00 L212.05,265.00 L212.30,265.00 L212.55,265.00 L212.80,265.00 L213.05,265.00 L213.30,265.00 L213.55,265.00 L213.80,265.00 L214.05,265.00 L214.30,265.00 L214.55,265.00 L214.80,265.00 L215.05,265.00 L215.30,265.00 L215.55,265.00 L215.80,265.00 L216.05,265.00 L216.30,265.00 L216.55,265.00 L216.80,265.00 L217.05,265.00 L217.30,265.00 L217.55,265.00 L217.80,265.00 L218.05,265.00 L218.30,265.00 L218.55,265.00 L218.80,265.00 L219.05,265.00 L219.30,265.00 L219.55,265.00 L219.80,265.00 L220.05,265.00 L220.30,265.00 L220.55,265.00 L220.80,265.00 L221.05,265.00 L221.30,265.00 L221.55,265.00 L221.80,265.00 L222.05,265.00 L222.30,265.00 L222.55,265.00 L222.80,265.00 L223.05,265.00 L223.30,265.00 L223.55,265.00 L223.80,265.00 L224.05,265.00 L224.30,265.00 L224.55,265.00 L224.80,265.00 L225.05,265.00 L225.30,265.00 L225.55,265.00 L225.80,265.00 L226.05,265.00 L226.30,265.00 L226.55,265.00 L226.80,265.00 L227.05,265.00 L227.30,265.00 L227.55,265.00 L227.80,265.00 L228.05,265.00 L228.30,265.00 L228.55,265.00 L228.80,265.00 L229.05,265.00 L229.30,265.00 L229.55,265.00 L229.80,265.00 L230.05,265.00 L230.30,265.00 L230.55,265.00 L230.80,265.00 L231.05,265.00 L231.30,265.00 L231.55,265.00 L231.80,265.00 L232.05,265.00 L232.30,265.00 L232.55,265.00 L232.80,265.00 L233.05,265.00 L233.30,265.00 L233.55,265.00 L233.80,265.00 L234.05,265.00 L234.30,265.00 L234.55,265.00 L234.80,265.00 L235.05,265.00 L235.30,265.00 L235.55,265.00 L235.80,265.00 L236.05,265.00 L236.30,265.00 L236.55,265.00 L236.80,265.00 L237.05,265.00 L237.30,265.00 L237.55,265.00 L237.80,265.00 L238.05,265.00 L238.30,265.00 L238.55,265.00 L238.80,265.00 L239.05,265.00 L239.30,265.00 L239.55,265.00 L239.80,265.00 L240.05,265.00 L240.30,265.00 L240.55,265.00 L240.80,265.00 L241.05,265.00 L241.30,265.00 L241.55,265.00 L241.80,265.00 L242.05,265.00 L242.30,265.00 L242.55,265.00 L242.80,265.00 L243.05,265.00 L243.30,265.00 L243.55,265.00 L243.80,265.00 L244.05,265.00 L244.30,265.00 L244.55,265.00 L244.80,265.00 L245.05,265.00 L245.30,265.00 L245.55,265.00 L245.80,265.00 L246.05,265.00 L246.30,265.00 L246.55,265.00 L246.80,265.00 L247.05,265.00 L247.30,265.00 L247.55,265.00 L247.80,265.00 L248.05,265.00 L248.30,265.00 L248.55,265.00 L248.80,265.00 L249.05,265.00 L249.30,265.00 L249.55,265.00 L249.80,265.00 L250.05,265.00 L250.30,265.00 L250.55,265.00 L250.80,265.00 L251.05,265.00 L251.30,265.00 L251.55,265.00 L251.80,265.00 L252.05,265.00 L252.30,265.00 L252.55,265.00 L252.80,265.00 L253.05,265.00 L253.30,265.00 L253.55,265.00 L253.80,265.00 L254.05,265.00 L254.30,265.00 L254.55,265.00 L254.80,265.00 L255.05,265.00 L255.30,265.00 L255.55,265.00 L255.80,265.00 L256.05,265.00 L256.30,265.00 L256.55,265.00 L256.80,265.00 L257.05,265.00 L257.30,265.00 L257.55,265.00 L257.80,265.00 L258.05,265.00 L258.30,265.00 L258.55,265.00 L258.80,265.00 L259.05,265.00 L259.30,265.00 L259.55,265.00 L259.80,265.00 L260.05,265.00 L260.30,265.00 L260.55,265.00 L260.80,265.00 L261.05,265.00 L261.30,265.00 L261.55,265.00 L261.80,265.00 L262.05,265.00 L262.30,265.00 L262.55,265.00 L262.80,265.00 L263.05,265.00 L263.30,265.00 L263.55,265.00 L263.80,265.00 L264.05,265.00 L264.30,265.00 L264.55,265.00 L264.80,265.00 L265.05,265.00 L265.30,265.00 L265.55,265.00 L265.80,265.00 L266.05,265.00 L266.30,265.00 L266.55,265.00 L266.80,265.00 L267.05,265.00 L267.30,265.00 L267.55,265.00 L267.80,265.00 L268.05,265.00 L268.30,265.00 L268.55,265.00 L268.80,265.00 L269.05,265.00 L269.30,265.00 L269.55,265.00 L269.80,265.00 L270.05,265.00 L270.30,265.00 L270.55,265.00 L270.80,265.00 L271.05,265.00 L271.30,265.00 L271.55,265.00 L271.80,265.00 L272.05,265.00 L272.30,265.00 L272.55,265.00 L272.80,265.00 L273.05,265.00 L273.30,265.00 L273.55,265.00 L273.80,265.00 L274.05,265.00 L274.30,265.00 L274.55,265.00 L274.80,265.00 L275.05,265.00 L275.30,265.00 L275.55,265.00 L275.80,265.00 L276.05,265.00 L276.30,265.00 L276.55,265.00 L276.80,265.00 L277.05,265.00 L277.30,265.00 L277.55,265.00 L277.80,265.00 L278.05,265.00 L278.30,265.00 L278.55,265.00 L278.80,265.00 L279.05,265.00 L279.30,265.00 L279.55,265.00 L279.80,265.00 L280.05,265.00 L280.30,265.00 L280.55,265.00 L280.80,265.00 L281.05,265.00 L281.30,265.00 L281.55,265.00 L281.80,265.00 L282.05,265.00 L282.30,265.00 L282.55,265.00 L282.80,265.00 L283.05,265.00 L283.30,265.00 L283.55,265.00 L283.80,265.00 L284.05,265.00 L284.30,265.00 L284.55,265.00 L284.80,265.00 L285.05,265.00 L285.30,265.00 L285.55,265.00 L285.80,265.00 L286.05,265.00 L286.30,265.00 L286.55,265.00 L286.80,265.00 L287.05,265.00 L287.30,265.00 L287.55,265.00 L287.80,265.00 L288.05,265.00 L288.30,265.00 L288.55,265.00 L288.80,265.00 L289.05,265.00 L289.30,265.00 L289.55,265.00 L289.80,265.00 L290.05,265.00 L290.30,265.00 L290.55,265.00 L290.80,265.00 L291.05,265.00 L291.30,265.00 L291.55,265.00 L291.80,265.00 L292.05,265.00 L292.30,265.00 L292.55,265.00 L292.80,265.00 L293.05,265.00 L293.30,265.00 L293.55,265.00 L293.80,265.00 L294.05,265.00 L294.30,265.00 L294.55,265.00 L294.80,265.00 L295.05,265.00 L295.30,265.00 L295.55,265.00 L295.80,265.00 L296.05,265.00 L296.30,265.00 L296.55,265.00 L296.80,265.00 L297.05,265.00 L297.30,265.00 L297.55,265.00 L297.80,265.00 L298.05,265.00 L298.30,265.00 L298.55,265.00 L298.80,265.00 L299.05,265.00 L299.30,265.00 L299.55,265.00 L299.80,265.00 L300.05,265.00 L300.30,265.00 L300.55,265.00 L300.80,265.00 L301.05,265.00 L301.30,265.00 L301.55,265.00 L301.80,265.00 L302.05,265.00 L302.30,265.00 L302.55,265.00 L302.80,265.00 L303.05,265.00 L303.30,265.00 L303.55,265.00 L303.80,265.00 L304.05,265.00 L304.30,265.00 L304.55,265.00 L304.80,265.00 L305.05,265.00 L305.30,265.00 L305.55,265.00 L305.80,265.00 L306.05,265.00 L306.30,265.00 L306.55,265.00 L306.80,265.00 L307.05,265.00 L307.30,265.00 L307.55,265.00 L307.80,265.00 L308.05,265.00 L308.30,265.00 L308.55,265.00 L308.80,265.00 L309.05,265.00 L309.30,265.00 L309.55,265.00 L309.80,265.00 L310.05,265.00 L310.30,265.00 L310.55,265.00 L310.80,265.00 L311.05,265.00 L311.30,265.00 L311.55,265.00 L311.80,265.00 L312.05,265.00 L312.30,265.00 L312.55,265.00 L312.80,265.00 L313.05,265.00 L313.30,265.00 L313.55,265.00 L313.80,265.00 L314.05,265.00 L314.30,265.00 L314.55,265.00 L314.80,265.00 L315.05,265.00 L315.30,265.00 L315.55,265.00 L315.80,265.00 L316.05,265.00 L316.30,265.00 L316.55,265.00 L316.80,265.00 L317.05,265.00 L317.30,265.00 L317.55,265.00" fill="none" stroke="#1f72c2" stroke-width="2.1" stroke-linejoin="round"/>
<path d="M71.80,313.80 L72.05,313.80 L72.30,313.80 L72.55,313.80 L72.80,313.80 L73.05,313.80 L73.30,313.80 L73.55,313.80 L73.80,313.80 L74.05,313.80 L74.30,313.80 L74.55,313.80 L74.80,313.80 L75.05,313.80 L75.30,313.80 L75.55,313.80 L75.80,313.80 L76.05,313.80 L76.30,313.80 L76.55,313.80 L76.80,313.80 L77.05,313.80 L77.30,313.80 L77.55,313.80 L77.80,313.80 L78.05,313.80 L78.30,313.80 L78.55,313.80 L78.80,313.80 L79.05,313.80 L79.30,313.80 L79.55,313.80 L79.80,313.80 L80.05,313.80 L80.30,313.80 L80.55,313.80 L80.80,313.80 L81.05,313.80 L81.30,313.80 L81.55,313.80 L81.80,313.80 L82.05,313.80 L82.30,313.80 L82.55,313.80 L82.80,313.80 L83.05,313.80 L83.30,313.80 L83.55,313.80 L83.80,313.80 L84.05,313.80 L84.30,313.80 L84.55,313.80 L84.80,313.80 L85.05,313.80 L85.30,313.80 L85.55,313.80 L85.80,313.80 L86.05,313.80 L86.30,313.80 L86.55,313.80 L86.80,313.80 L87.05,313.80 L87.30,313.80 L87.55,313.80 L87.80,313.80 L88.05,313.80 L88.30,313.80 L88.55,313.80 L88.80,313.80 L89.05,313.80 L89.30,313.80 L89.55,313.80 L89.80,313.80 L90.05,313.80 L90.30,313.80 L90.55,313.80 L90.80,313.80 L91.05,313.80 L91.30,313.80 L91.55,313.80 L91.80,313.80 L92.05,313.80 L92.30,313.80 L92.55,313.80 L92.80,313.80 L93.05,313.80 L93.30,313.80 L93.55,313.80 L93.80,313.80 L94.05,313.80 L94.30,313.80 L94.55,313.80 L94.80,313.80 L95.05,313.80 L95.30,313.80 L95.55,313.80 L95.80,313.80 L96.05,313.80 L96.30,313.80 L96.55,313.80 L96.80,313.80 L97.05,313.80 L97.30,313.80 L97.55,313.80 L97.80,313.80 L98.05,313.80 L98.30,313.80 L98.55,313.80 L98.80,313.80 L99.05,313.80 L99.30,313.80 L99.55,313.80 L99.80,313.80 L100.05,313.80 L100.30,313.80 L100.55,313.80 L100.80,313.80 L101.05,313.80 L101.30,313.80 L101.55,313.80 L101.80,313.80 L102.05,313.80 L102.30,313.80 L102.55,313.80 L102.80,313.80 L103.05,313.80 L103.30,313.80 L103.55,313.80 L103.80,313.80 L104.05,313.80 L104.30,313.80 L104.55,313.80 L104.80,313.80 L105.05,313.80 L105.30,313.80 L105.55,313.80 L105.80,313.80 L106.05,313.80 L106.30,313.80 L106.55,313.80 L106.80,313.80 L107.05,313.80 L107.30,313.80 L107.55,313.80 L107.80,313.80 L108.05,313.80 L108.30,313.80 L108.55,313.80 L108.80,313.80 L109.05,313.80 L109.30,313.80 L109.55,313.80 L109.80,313.80 L110.05,313.80 L110.30,313.80 L110.55,313.80 L110.80,313.80 L111.05,313.80 L111.30,313.80 L111.55,313.80 L111.80,313.80 L112.05,313.80 L112.30,313.80 L112.55,313.80 L112.80,313.80 L113.05,313.80 L113.30,313.80 L113.55,313.80 L113.80,313.80 L114.05,313.80 L114.30,313.80 L114.55,313.80 L114.80,313.80 L115.05,313.80 L115.30,313.80 L115.55,313.80 L115.80,313.80 L116.05,313.80 L116.30,313.80 L116.55,313.80 L116.80,313.80 L117.05,313.80 L117.30,313.80 L117.55,313.80 L117.80,313.80 L118.05,313.80 L118.30,313.80 L118.55,313.80 L118.80,313.80 L119.05,313.80 L119.30,313.80 L119.55,313.80 L119.80,313.80 L120.05,313.80 L120.30,313.80 L120.55,313.80 L120.80,313.80 L121.05,313.80 L121.30,313.80 L121.55,313.80 L121.80,313.80 L122.05,313.79 L122.30,313.79 L122.55,313.79 L122.80,313.79 L123.05,313.79 L123.30,313.79 L123.55,313.79 L123.80,313.79 L124.05,313.79 L124.30,313.79 L124.55,313.79 L124.80,313.79 L125.05,313.79 L125.30,313.79 L125.55,313.79 L125.80,313.79 L126.05,313.79 L126.30,313.79 L126.55,313.79 L126.80,313.79 L127.05,313.79 L127.30,313.79 L127.55,313.79 L127.80,313.79 L128.05,313.79 L128.30,313.79 L128.55,313.79 L128.80,313.79 L129.05,313.79 L129.30,313.79 L129.55,313.79 L129.80,313.79 L130.05,313.78 L130.30,313.78 L130.55,313.78 L130.80,313.78 L131.05,313.78 L131.30,313.78 L131.55,313.78 L131.80,313.78 L132.05,313.77 L132.30,313.77 L132.55,313.77 L132.80,313.77 L133.05,313.76 L133.30,313.76 L133.55,313.75 L133.80,313.75 L134.05,313.74 L134.30,313.73 L134.55,313.72 L134.80,313.70 L135.05,313.68 L135.30,313.64 L135.55,313.56 L135.80,313.32 L136.05,312.76 L136.30,311.61 L136.55,309.69 L136.80,307.26 L137.05,305.08 L137.30,304.19 L137.55,305.08 L137.80,307.26 L138.05,309.69 L138.30,311.61 L138.55,312.76 L138.80,313.32 L139.05,313.55 L139.30,313.64 L139.55,313.68 L139.80,313.70 L140.05,313.71 L140.30,313.73 L140.55,313.73 L140.80,313.74 L141.05,313.75 L141.30,313.75 L141.55,313.75 L141.80,313.76 L142.05,313.76 L142.30,313.76 L142.55,313.76 L142.80,313.77 L143.05,313.77 L143.30,313.77 L143.55,313.77 L143.80,313.77 L144.05,313.77 L144.30,313.77 L144.55,313.77 L144.80,313.77 L145.05,313.77 L145.30,313.77 L145.55,313.77 L145.80,313.77 L146.05,313.77 L146.30,313.77 L146.55,313.77 L146.80,313.76 L147.05,313.76 L147.30,313.76 L147.55,313.76 L147.80,313.76 L148.05,313.76 L148.30,313.75 L148.55,313.75 L148.80,313.75 L149.05,313.75 L149.30,313.74 L149.55,313.74 L149.80,313.74 L150.05,313.73 L150.30,313.73 L150.55,313.72 L150.80,313.71 L151.05,313.71 L151.30,313.70 L151.55,313.69 L151.80,313.68 L152.05,313.67 L152.30,313.65 L152.55,313.63 L152.80,313.61 L153.05,313.59 L153.30,313.56 L153.55,313.52 L153.80,313.47 L154.05,313.39 L154.30,313.26 L154.55,312.97 L154.80,312.33 L155.05,310.97 L155.30,308.36 L155.55,304.05 L155.80,298.06 L156.05,291.23 L156.30,285.37 L156.55,282.49 L156.80,283.76 L157.05,288.65 L157.30,295.34 L157.55,301.83 L157.80,306.86 L158.05,310.10 L158.30,311.90 L158.55,312.78 L158.80,313.17 L159.05,313.35 L159.30,313.44 L159.55,313.50 L159.80,313.54 L160.05,313.58 L160.30,313.60 L160.55,313.63 L160.80,313.65 L161.05,313.66 L161.30,313.68 L161.55,313.69 L161.80,313.70 L162.05,313.71 L162.30,313.71 L162.55,313.72 L162.80,313.73 L163.05,313.73 L163.30,313.74 L163.55,313.74 L163.80,313.75 L164.05,313.75 L164.30,313.75 L164.55,313.75 L164.80,313.76 L165.05,313.76 L165.30,313.76 L165.55,313.76 L165.80,313.77 L166.05,313.77 L166.30,313.77 L166.55,313.77 L166.80,313.77 L167.05,313.77 L167.30,313.77 L167.55,313.78 L167.80,313.78 L168.05,313.78 L168.30,313.78 L168.55,313.78 L168.80,313.78 L169.05,313.78 L169.30,313.78 L169.55,313.78 L169.80,313.78 L170.05,313.78 L170.30,313.78 L170.55,313.78 L170.80,313.79 L171.05,313.79 L171.30,313.79 L171.55,313.79 L171.80,313.79 L172.05,313.79 L172.30,313.79 L172.55,313.79 L172.80,313.79 L173.05,313.79 L173.30,313.79 L173.55,313.79 L173.80,313.79 L174.05,313.79 L174.30,313.79 L174.55,313.79 L174.80,313.79 L175.05,313.79 L175.30,313.79 L175.55,313.79 L175.80,313.79 L176.05,313.79 L176.30,313.79 L176.55,313.79 L176.80,313.79 L177.05,313.79 L177.30,313.79 L177.55,313.79 L177.80,313.79 L178.05,313.79 L178.30,313.79 L178.55,313.79 L178.80,313.79 L179.05,313.79 L179.30,313.79 L179.55,313.79 L179.80,313.79 L180.05,313.79 L180.30,313.79 L180.55,313.79 L180.80,313.79 L181.05,313.79 L181.30,313.80 L181.55,313.80 L181.80,313.80 L182.05,313.80 L182.30,313.80 L182.55,313.80 L182.80,313.80 L183.05,313.80 L183.30,313.80 L183.55,313.80 L183.80,313.80 L184.05,313.80 L184.30,313.80 L184.55,313.80 L184.80,313.80 L185.05,313.80 L185.30,313.80 L185.55,313.80 L185.80,313.80 L186.05,313.80 L186.30,313.80 L186.55,313.80 L186.80,313.80 L187.05,313.80 L187.30,313.80 L187.55,313.80 L187.80,313.80 L188.05,313.80 L188.30,313.80 L188.55,313.80 L188.80,313.80 L189.05,313.80 L189.30,313.80 L189.55,313.80 L189.80,313.80 L190.05,313.80 L190.30,313.80 L190.55,313.80 L190.80,313.80 L191.05,313.80 L191.30,313.80 L191.55,313.80 L191.80,313.80 L192.05,313.80 L192.30,313.80 L192.55,313.80 L192.80,313.80 L193.05,313.80 L193.30,313.80 L193.55,313.80 L193.80,313.80 L194.05,313.80 L194.30,313.80 L194.55,313.80 L194.80,313.80 L195.05,313.80 L195.30,313.80 L195.55,313.80 L195.80,313.80 L196.05,313.80 L196.30,313.80 L196.55,313.80 L196.80,313.80 L197.05,313.80 L197.30,313.80 L197.55,313.80 L197.80,313.80 L198.05,313.80 L198.30,313.80 L198.55,313.80 L198.80,313.80 L199.05,313.80 L199.30,313.80 L199.55,313.80 L199.80,313.80 L200.05,313.80 L200.30,313.80 L200.55,313.80 L200.80,313.80 L201.05,313.80 L201.30,313.80 L201.55,313.80 L201.80,313.80 L202.05,313.80 L202.30,313.80 L202.55,313.80 L202.80,313.80 L203.05,313.80 L203.30,313.80 L203.55,313.80 L203.80,313.80 L204.05,313.80 L204.30,313.80 L204.55,313.80 L204.80,313.80 L205.05,313.80 L205.30,313.80 L205.55,313.80 L205.80,313.80 L206.05,313.80 L206.30,313.80 L206.55,313.80 L206.80,313.80 L207.05,313.80 L207.30,313.80 L207.55,313.80 L207.80,313.80 L208.05,313.80 L208.30,313.80 L208.55,313.80 L208.80,313.80 L209.05,313.80 L209.30,313.80 L209.55,313.80 L209.80,313.80 L210.05,313.80 L210.30,313.80 L210.55,313.80 L210.80,313.80 L211.05,313.80 L211.30,313.80 L211.55,313.80 L211.80,313.80 L212.05,313.80 L212.30,313.80 L212.55,313.80 L212.80,313.80 L213.05,313.80 L213.30,313.80 L213.55,313.80 L213.80,313.80 L214.05,313.80 L214.30,313.80 L214.55,313.80 L214.80,313.80 L215.05,313.80 L215.30,313.80 L215.55,313.80 L215.80,313.80 L216.05,313.80 L216.30,313.80 L216.55,313.80 L216.80,313.80 L217.05,313.80 L217.30,313.80 L217.55,313.80 L217.80,313.80 L218.05,313.80 L218.30,313.80 L218.55,313.80 L218.80,313.80 L219.05,313.80 L219.30,313.80 L219.55,313.80 L219.80,313.80 L220.05,313.80 L220.30,313.80 L220.55,313.80 L220.80,313.80 L221.05,313.80 L221.30,313.80 L221.55,313.80 L221.80,313.80 L222.05,313.80 L222.30,313.80 L222.55,313.80 L222.80,313.80 L223.05,313.80 L223.30,313.80 L223.55,313.80 L223.80,313.80 L224.05,313.80 L224.30,313.80 L224.55,313.80 L224.80,313.80 L225.05,313.80 L225.30,313.80 L225.55,313.80 L225.80,313.80 L226.05,313.80 L226.30,313.80 L226.55,313.80 L226.80,313.80 L227.05,313.80 L227.30,313.80 L227.55,313.80 L227.80,313.80 L228.05,313.80 L228.30,313.80 L228.55,313.80 L228.80,313.80 L229.05,313.80 L229.30,313.80 L229.55,313.80 L229.80,313.80 L230.05,313.80 L230.30,313.80 L230.55,313.80 L230.80,313.80 L231.05,313.80 L231.30,313.80 L231.55,313.80 L231.80,313.80 L232.05,313.80 L232.30,313.80 L232.55,313.80 L232.80,313.80 L233.05,313.80 L233.30,313.80 L233.55,313.80 L233.80,313.80 L234.05,313.80 L234.30,313.80 L234.55,313.80 L234.80,313.80 L235.05,313.80 L235.30,313.80 L235.55,313.80 L235.80,313.80 L236.05,313.80 L236.30,313.80 L236.55,313.80 L236.80,313.80 L237.05,313.80 L237.30,313.80 L237.55,313.80 L237.80,313.80 L238.05,313.80 L238.30,313.80 L238.55,313.80 L238.80,313.80 L239.05,313.80 L239.30,313.80 L239.55,313.80 L239.80,313.80 L240.05,313.80 L240.30,313.80 L240.55,313.80 L240.80,313.80 L241.05,313.80 L241.30,313.80 L241.55,313.80 L241.80,313.80 L242.05,313.80 L242.30,313.80 L242.55,313.80 L242.80,313.80 L243.05,313.80 L243.30,313.80 L243.55,313.80 L243.80,313.80 L244.05,313.80 L244.30,313.80 L244.55,313.80 L244.80,313.80 L245.05,313.80 L245.30,313.80 L245.55,313.80 L245.80,313.80 L246.05,313.80 L246.30,313.80 L246.55,313.80 L246.80,313.80 L247.05,313.80 L247.30,313.80 L247.55,313.80 L247.80,313.80 L248.05,313.80 L248.30,313.80 L248.55,313.80 L248.80,313.80 L249.05,313.80 L249.30,313.80 L249.55,313.80 L249.80,313.80 L250.05,313.80 L250.30,313.80 L250.55,313.80 L250.80,313.80 L251.05,313.80 L251.30,313.80 L251.55,313.80 L251.80,313.80 L252.05,313.80 L252.30,313.80 L252.55,313.80 L252.80,313.80 L253.05,313.80 L253.30,313.80 L253.55,313.80 L253.80,313.80 L254.05,313.80 L254.30,313.80 L254.55,313.80 L254.80,313.80 L255.05,313.80 L255.30,313.80 L255.55,313.80 L255.80,313.80 L256.05,313.80 L256.30,313.80 L256.55,313.80 L256.80,313.80 L257.05,313.80 L257.30,313.80 L257.55,313.80 L257.80,313.80 L258.05,313.80 L258.30,313.80 L258.55,313.80 L258.80,313.80 L259.05,313.80 L259.30,313.80 L259.55,313.80 L259.80,313.80 L260.05,313.80 L260.30,313.80 L260.55,313.80 L260.80,313.80 L261.05,313.80 L261.30,313.80 L261.55,313.80 L261.80,313.80 L262.05,313.80 L262.30,313.80 L262.55,313.80 L262.80,313.80 L263.05,313.80 L263.30,313.80 L263.55,313.80 L263.80,313.80 L264.05,313.80 L264.30,313.80 L264.55,313.80 L264.80,313.80 L265.05,313.80 L265.30,313.80 L265.55,313.80 L265.80,313.80 L266.05,313.80 L266.30,313.80 L266.55,313.80 L266.80,313.80 L267.05,313.80 L267.30,313.80 L267.55,313.80 L267.80,313.80 L268.05,313.80 L268.30,313.80 L268.55,313.80 L268.80,313.80 L269.05,313.80 L269.30,313.80 L269.55,313.80 L269.80,313.80 L270.05,313.80 L270.30,313.80 L270.55,313.80 L270.80,313.80 L271.05,313.80 L271.30,313.80 L271.55,313.80 L271.80,313.80 L272.05,313.80 L272.30,313.80 L272.55,313.80 L272.80,313.80 L273.05,313.80 L273.30,313.80 L273.55,313.80 L273.80,313.80 L274.05,313.80 L274.30,313.80 L274.55,313.80 L274.80,313.80 L275.05,313.80 L275.30,313.80 L275.55,313.80 L275.80,313.80 L276.05,313.80 L276.30,313.80 L276.55,313.80 L276.80,313.80 L277.05,313.80 L277.30,313.80 L277.55,313.80 L277.80,313.80 L278.05,313.80 L278.30,313.80 L278.55,313.80 L278.80,313.80 L279.05,313.80 L279.30,313.80 L279.55,313.80 L279.80,313.80 L280.05,313.80 L280.30,313.80 L280.55,313.80 L280.80,313.80 L281.05,313.80 L281.30,313.80 L281.55,313.80 L281.80,313.80 L282.05,313.80 L282.30,313.80 L282.55,313.80 L282.80,313.80 L283.05,313.80 L283.30,313.80 L283.55,313.80 L283.80,313.80 L284.05,313.80 L284.30,313.80 L284.55,313.80 L284.80,313.80 L285.05,313.80 L285.30,313.80 L285.55,313.80 L285.80,313.80 L286.05,313.80 L286.30,313.80 L286.55,313.80 L286.80,313.80 L287.05,313.80 L287.30,313.80 L287.55,313.80 L287.80,313.80 L288.05,313.80 L288.30,313.80 L288.55,313.80 L288.80,313.80 L289.05,313.80 L289.30,313.80 L289.55,313.80 L289.80,313.80 L290.05,313.80 L290.30,313.80 L290.55,313.80 L290.80,313.80 L291.05,313.80 L291.30,313.80 L291.55,313.80 L291.80,313.80 L292.05,313.80 L292.30,313.80 L292.55,313.80 L292.80,313.80 L293.05,313.80 L293.30,313.80 L293.55,313.80 L293.80,313.80 L294.05,313.80 L294.30,313.80 L294.55,313.80 L294.80,313.80 L295.05,313.80 L295.30,313.80 L295.55,313.80 L295.80,313.80 L296.05,313.80 L296.30,313.80 L296.55,313.80 L296.80,313.80 L297.05,313.80 L297.30,313.80 L297.55,313.80 L297.80,313.80 L298.05,313.80 L298.30,313.80 L298.55,313.80 L298.80,313.80 L299.05,313.80 L299.30,313.80 L299.55,313.80 L299.80,313.80 L300.05,313.80 L300.30,313.80 L300.55,313.80 L300.80,313.80 L301.05,313.80 L301.30,313.80 L301.55,313.80 L301.80,313.80 L302.05,313.80 L302.30,313.80 L302.55,313.80 L302.80,313.80 L303.05,313.80 L303.30,313.80 L303.55,313.80 L303.80,313.80 L304.05,313.80 L304.30,313.80 L304.55,313.80 L304.80,313.80 L305.05,313.80 L305.30,313.80 L305.55,313.80 L305.80,313.80 L306.05,313.80 L306.30,313.80 L306.55,313.80 L306.80,313.80 L307.05,313.80 L307.30,313.80 L307.55,313.80 L307.80,313.80 L308.05,313.80 L308.30,313.80 L308.55,313.80 L308.80,313.80 L309.05,313.80 L309.30,313.80 L309.55,313.80 L309.80,313.80 L310.05,313.80 L310.30,313.80 L310.55,313.80 L310.80,313.80 L311.05,313.80 L311.30,313.80 L311.55,313.80 L311.80,313.80 L312.05,313.80 L312.30,313.80 L312.55,313.80 L312.80,313.80 L313.05,313.80 L313.30,313.80 L313.55,313.80 L313.80,313.80 L314.05,313.80 L314.30,313.80 L314.55,313.80 L314.80,313.80 L315.05,313.80 L315.30,313.80 L315.55,313.80 L315.80,313.80 L316.05,313.80 L316.30,313.80 L316.55,313.80 L316.80,313.80 L317.05,313.80 L317.30,313.80 L317.55,313.80" fill="none" stroke="#28a65c" stroke-width="2.1" stroke-linejoin="round"/>
<path d="M71.80,366.80 L72.05,366.80 L72.30,366.80 L72.55,366.80 L72.80,366.80 L73.05,366.80 L73.30,366.80 L73.55,366.80 L73.80,366.80 L74.05,366.80 L74.30,366.80 L74.55,366.80 L74.80,366.80 L75.05,366.80 L75.30,366.80 L75.55,366.80 L75.80,366.80 L76.05,366.80 L76.30,366.80 L76.55,366.80 L76.80,366.80 L77.05,366.80 L77.30,366.80 L77.55,366.80 L77.80,366.80 L78.05,366.80 L78.30,366.80 L78.55,366.80 L78.80,366.80 L79.05,366.80 L79.30,366.80 L79.55,366.80 L79.80,366.80 L80.05,366.80 L80.30,366.80 L80.55,366.80 L80.80,366.80 L81.05,366.80 L81.30,366.80 L81.55,366.80 L81.80,366.80 L82.05,366.80 L82.30,366.80 L82.55,366.80 L82.80,366.80 L83.05,366.80 L83.30,366.80 L83.55,366.80 L83.80,366.80 L84.05,366.80 L84.30,366.80 L84.55,366.80 L84.80,366.80 L85.05,366.80 L85.30,366.80 L85.55,366.80 L85.80,366.80 L86.05,366.76 L86.30,366.58 L86.55,366.40 L86.80,366.22 L87.05,366.04 L87.30,365.86 L87.55,365.68 L87.80,365.50 L88.05,365.65 L88.30,365.32 L88.55,365.06 L88.80,364.97 L89.05,364.93 L89.30,364.91 L89.55,364.89 L89.80,364.84 L90.05,364.74 L90.30,364.59 L90.55,364.41 L90.80,364.23 L91.05,364.07 L91.30,363.98 L91.55,363.98 L91.80,364.06 L92.05,364.23 L92.30,364.43 L92.55,364.64 L92.80,364.81 L93.05,364.91 L93.30,364.93 L93.55,364.87 L93.80,364.74 L94.05,364.56 L94.30,364.11 L94.55,362.61 L94.80,359.39 L95.05,356.69 L95.30,358.00 L95.55,361.45 L95.80,363.53 L96.05,364.04 L96.30,363.97 L96.55,363.76 L96.80,363.53 L97.05,363.32 L97.30,363.17 L97.55,363.10 L97.80,363.13 L98.05,363.24 L98.30,363.40 L98.55,363.58 L98.80,363.73 L99.05,363.84 L99.30,363.88 L99.55,363.86 L99.80,363.81 L100.05,363.76 L100.30,363.72 L100.55,363.73 L100.80,363.77 L101.05,363.84 L101.30,363.90 L101.55,363.94 L101.80,363.91 L102.05,363.81 L102.30,363.62 L102.55,363.38 L102.80,363.11 L103.05,362.85 L103.30,362.65 L103.55,362.53 L103.80,362.50 L104.05,362.55 L104.30,362.65 L104.55,362.78 L104.80,362.88 L105.05,362.96 L105.30,362.98 L105.55,362.98 L105.80,363.01 L106.05,363.06 L106.30,363.14 L106.55,363.28 L106.80,363.46 L107.05,363.67 L107.30,363.88 L107.55,364.06 L107.80,364.16 L108.05,364.18 L108.30,364.11 L108.55,363.96 L108.80,363.77 L109.05,363.59 L109.30,363.44 L109.55,363.36 L109.80,363.36 L110.05,363.42 L110.30,363.48 L110.55,363.56 L110.80,363.62 L111.05,363.65 L111.30,363.63 L111.55,363.59 L111.80,363.55 L112.05,363.53 L112.30,363.57 L112.55,363.67 L112.80,363.83 L113.05,364.04 L113.30,364.26 L113.55,364.44 L113.80,364.56 L114.05,364.59 L114.30,364.52 L114.55,364.37 L114.80,364.18 L115.05,363.97 L115.30,363.79 L115.55,363.67 L115.80,363.60 L116.05,363.59 L116.30,363.60 L116.55,363.62 L116.80,363.62 L117.05,363.57 L117.30,363.49 L117.55,363.41 L117.80,363.35 L118.05,363.34 L118.30,363.39 L118.55,363.52 L118.80,363.73 L119.05,364.00 L119.30,364.29 L119.55,364.56 L119.80,364.78 L120.05,364.91 L120.30,364.95 L120.55,364.91 L120.80,364.83 L121.05,364.73 L121.30,364.66 L121.55,364.62 L121.80,364.63 L122.05,364.67 L122.30,364.75 L122.55,364.81 L122.80,364.82 L123.05,364.79 L123.30,364.70 L123.55,364.59 L123.80,364.49 L124.05,364.42 L124.30,364.43 L124.55,364.54 L124.80,364.73 L125.05,364.99 L125.30,365.29 L125.55,365.58 L125.80,365.82 L126.05,366.00 L126.30,366.11 L126.55,366.15 L126.80,366.14 L127.05,366.08 L127.30,366.01 L127.55,365.97 L127.80,365.97 L128.05,365.99 L128.30,366.01 L128.55,366.00 L128.80,365.92 L129.05,365.78 L129.30,365.59 L129.55,365.35 L129.80,365.04 L130.05,364.56 L130.30,364.06 L130.55,364.09 L130.80,364.56 L131.05,364.94 L131.30,365.18 L131.55,365.38 L131.80,365.54 L132.05,365.65 L132.30,365.69 L132.55,365.69 L132.80,365.67 L133.05,365.65 L133.30,365.65 L133.55,365.71 L133.80,365.79 L134.05,365.90 L134.30,366.00 L134.55,366.05 L134.80,366.03 L135.05,365.92 L135.30,365.73 L135.55,365.49 L135.80,365.23 L136.05,364.99 L136.30,364.80 L136.55,364.61 L136.80,364.21 L137.05,363.25 L137.30,361.96 L137.55,361.60 L137.80,362.72 L138.05,364.14 L138.30,364.91 L138.55,365.14 L138.80,365.17 L139.05,365.18 L139.30,365.23 L139.55,365.33 L139.80,365.48 L140.05,365.26 L140.30,365.27 L140.55,365.28 L140.80,365.29 L141.05,365.29 L141.30,365.29 L141.55,365.28 L141.80,365.25 L142.05,365.21 L142.30,365.10 L142.55,364.84 L142.80,364.23 L143.05,362.89 L143.30,360.31 L143.55,356.03 L143.80,350.06 L144.05,343.27 L144.30,337.43 L144.55,334.58 L144.80,335.87 L145.05,340.79 L145.30,347.51 L145.55,354.02 L145.80,359.07 L146.05,362.34 L146.30,364.16 L146.55,365.06 L146.80,365.49 L147.05,365.69 L147.30,365.81 L147.55,365.89 L147.80,365.86 L148.05,365.80 L148.30,365.73 L148.55,365.66 L148.80,365.58 L149.05,365.50 L149.30,365.41 L149.55,365.33 L149.80,365.24 L150.05,365.15 L150.30,365.06 L150.55,364.97 L150.80,364.98 L151.05,365.12 L151.30,365.27 L151.55,365.42 L151.80,365.56 L152.05,365.71 L152.30,365.85 L152.55,365.99 L152.80,366.14 L153.05,366.25 L153.30,366.27 L153.55,366.28 L153.80,366.29 L154.05,366.30 L154.30,366.32 L154.55,366.33 L154.80,366.34 L155.05,366.35 L155.30,366.36 L155.55,366.37 L155.80,366.38 L156.05,366.39 L156.30,366.41 L156.55,366.42 L156.80,366.43 L157.05,366.44 L157.30,366.45 L157.55,366.46 L157.80,366.47 L158.05,366.48 L158.30,366.49 L158.55,366.50 L158.80,366.51 L159.05,366.51 L159.30,366.52 L159.55,366.53 L159.80,366.54 L160.05,366.55 L160.30,366.54 L160.55,366.54 L160.80,366.54 L161.05,366.54 L161.30,366.53 L161.55,366.53 L161.80,366.52 L162.05,366.51 L162.30,366.49 L162.55,366.47 L162.80,366.44 L163.05,366.37 L163.30,366.22 L163.55,365.86 L163.80,365.06 L164.05,363.55 L164.30,361.14 L164.55,357.97 L164.80,354.76 L165.05,352.59 L165.30,352.37 L165.55,354.22 L165.80,357.32 L166.05,360.57 L166.30,363.17 L166.55,364.86 L166.80,365.78 L167.05,366.22 L167.30,366.41 L167.55,366.50 L167.80,366.54 L168.05,366.57 L168.30,366.59 L168.55,366.61 L168.80,366.63 L169.05,366.64 L169.30,366.65 L169.55,366.66 L169.80,366.67 L170.05,366.68 L170.30,366.69 L170.55,366.70 L170.80,366.70 L171.05,366.71 L171.30,366.72 L171.55,366.72 L171.80,366.73 L172.05,366.73 L172.30,366.74 L172.55,366.74 L172.80,366.75 L173.05,366.75 L173.30,366.76 L173.55,366.76 L173.80,366.76 L174.05,366.77 L174.30,366.77 L174.55,366.78 L174.80,366.78 L175.05,366.78 L175.30,366.78 L175.55,366.78 L175.80,366.79 L176.05,366.79 L176.30,366.79 L176.55,366.79 L176.80,366.79 L177.05,366.79 L177.30,366.79 L177.55,366.79 L177.80,366.79 L178.05,366.79 L178.30,366.79 L178.55,366.79 L178.80,366.79 L179.05,366.79 L179.30,366.79 L179.55,366.79 L179.80,366.79 L180.05,366.79 L180.30,366.79 L180.55,366.79 L180.80,366.79 L181.05,366.79 L181.30,366.79 L181.55,366.79 L181.80,366.79 L182.05,366.79 L182.30,366.79 L182.55,366.79 L182.80,366.79 L183.05,366.79 L183.30,366.79 L183.55,366.79 L183.80,366.79 L184.05,366.78 L184.30,366.78 L184.55,366.78 L184.80,366.78 L185.05,366.77 L185.30,366.77 L185.55,366.75 L185.80,366.70 L186.05,366.54 L186.30,366.11 L186.55,365.35 L186.80,364.56 L187.05,364.31 L187.30,364.84 L187.55,365.69 L187.80,366.32 L188.05,366.63 L188.30,366.73 L188.55,366.76 L188.80,366.77 L189.05,366.77 L189.30,366.78 L189.55,366.78 L189.80,366.78 L190.05,366.78 L190.30,366.78 L190.55,366.78 L190.80,366.78 L191.05,366.78 L191.30,366.78 L191.55,366.78 L191.80,366.78 L192.05,366.78 L192.30,366.77 L192.55,366.77 L192.80,366.76 L193.05,366.74 L193.30,366.66 L193.55,366.41 L193.80,365.84 L194.05,365.01 L194.30,364.36 L194.55,364.45 L194.80,365.18 L195.05,365.98 L195.30,366.48 L195.55,366.68 L195.80,366.75 L196.05,366.76 L196.30,366.77 L196.55,366.78 L196.80,366.78 L197.05,366.78 L197.30,366.79 L197.55,366.79 L197.80,366.79 L198.05,366.79 L198.30,366.79 L198.55,366.79 L198.80,366.79 L199.05,366.79 L199.30,366.79 L199.55,366.79 L199.80,366.79 L200.05,366.79 L200.30,366.79 L200.55,366.79 L200.80,366.79 L201.05,366.79 L201.30,366.79 L201.55,366.79 L201.80,366.79 L202.05,366.79 L202.30,366.79 L202.55,366.79 L202.80,366.79 L203.05,366.79 L203.30,366.79 L203.55,366.79 L203.80,366.79 L204.05,366.79 L204.30,366.79 L204.55,366.78 L204.80,366.78 L205.05,366.77 L205.30,366.76 L205.55,366.69 L205.80,366.51 L206.05,366.13 L206.30,365.62 L206.55,365.30 L206.80,365.45 L207.05,365.93 L207.30,366.38 L207.55,366.64 L207.80,366.74 L208.05,366.77 L208.30,366.77 L208.55,366.78 L208.80,366.78 L209.05,366.78 L209.30,366.78 L209.55,366.78 L209.80,366.78 L210.05,366.78 L210.30,366.78 L210.55,366.78 L210.80,366.78 L211.05,366.78 L211.30,366.77 L211.55,366.77 L211.80,366.76 L212.05,366.76 L212.30,366.75 L212.55,366.74 L212.80,366.72 L213.05,366.68 L213.30,366.54 L213.55,366.08 L213.80,364.89 L214.05,362.76 L214.30,360.53 L214.55,359.85 L214.80,361.33 L215.05,363.70 L215.30,365.48 L215.55,366.33 L215.80,366.62 L216.05,366.70 L216.30,366.73 L216.55,366.74 L216.80,366.75 L217.05,366.76 L217.30,366.77 L217.55,366.77 L217.80,366.78 L218.05,366.78 L218.30,366.78 L218.55,366.78 L218.80,366.79 L219.05,366.79 L219.30,366.79 L219.55,366.79 L219.80,366.79 L220.05,366.79 L220.30,366.79 L220.55,366.79 L220.80,366.79 L221.05,366.79 L221.30,366.79 L221.55,366.79 L221.80,366.79 L222.05,366.79 L222.30,366.79 L222.55,366.79 L222.80,366.80 L223.05,366.80 L223.30,366.80 L223.55,366.80 L223.80,366.80 L224.05,366.80 L224.30,366.80 L224.55,366.80 L224.80,366.80 L225.05,366.80 L225.30,366.80 L225.55,366.80 L225.80,366.80 L226.05,366.80 L226.30,366.80 L226.55,366.80 L226.80,366.80 L227.05,366.80 L227.30,366.80 L227.55,366.80 L227.80,366.80 L228.05,366.80 L228.30,366.80 L228.55,366.80 L228.80,366.80 L229.05,366.80 L229.30,366.80 L229.55,366.80 L229.80,366.80 L230.05,366.80 L230.30,366.80 L230.55,366.80 L230.80,366.80 L231.05,366.80 L231.30,366.80 L231.55,366.80 L231.80,366.80 L232.05,366.80 L232.30,366.80 L232.55,366.80 L232.80,366.80 L233.05,366.80 L233.30,366.80 L233.55,366.80 L233.80,366.80 L234.05,366.80 L234.30,366.80 L234.55,366.80 L234.80,366.80 L235.05,366.80 L235.30,366.80 L235.55,366.80 L235.80,366.80 L236.05,366.80 L236.30,366.80 L236.55,366.80 L236.80,366.80 L237.05,366.80 L237.30,366.80 L237.55,366.80 L237.80,366.80 L238.05,366.80 L238.30,366.80 L238.55,366.80 L238.80,366.80 L239.05,366.80 L239.30,366.80 L239.55,366.80 L239.80,366.80 L240.05,366.80 L240.30,366.80 L240.55,366.80 L240.80,366.80 L241.05,366.80 L241.30,366.80 L241.55,366.80 L241.80,366.80 L242.05,366.80 L242.30,366.80 L242.55,366.80 L242.80,366.80 L243.05,366.80 L243.30,366.80 L243.55,366.80 L243.80,366.80 L244.05,366.80 L244.30,366.80 L244.55,366.80 L244.80,366.80 L245.05,366.80 L245.30,366.80 L245.55,366.80 L245.80,366.80 L246.05,366.80 L246.30,366.80 L246.55,366.80 L246.80,366.80 L247.05,366.80 L247.30,366.80 L247.55,366.80 L247.80,366.80 L248.05,366.80 L248.30,366.80 L248.55,366.80 L248.80,366.80 L249.05,366.80 L249.30,366.80 L249.55,366.80 L249.80,366.80 L250.05,366.80 L250.30,366.80 L250.55,366.80 L250.80,366.80 L251.05,366.80 L251.30,366.80 L251.55,366.80 L251.80,366.79 L252.05,366.79 L252.30,366.79 L252.55,366.79 L252.80,366.79 L253.05,366.79 L253.30,366.79 L253.55,366.79 L253.80,366.79 L254.05,366.78 L254.30,366.78 L254.55,366.77 L254.80,366.77 L255.05,366.74 L255.30,366.66 L255.55,366.40 L255.80,365.81 L256.05,364.94 L256.30,364.27 L256.55,364.36 L256.80,365.12 L257.05,365.96 L257.30,366.47 L257.55,366.68 L257.80,366.75 L258.05,366.77 L258.30,366.78 L258.55,366.78 L258.80,366.78 L259.05,366.79 L259.30,366.79 L259.55,366.79 L259.80,366.79 L260.05,366.79 L260.30,366.79 L260.55,366.79 L260.80,366.79 L261.05,366.80 L261.30,366.80 L261.55,366.80 L261.80,366.80 L262.05,366.80 L262.30,366.80 L262.55,366.80 L262.80,366.80 L263.05,366.80 L263.30,366.80 L263.55,366.80 L263.80,366.80 L264.05,366.80 L264.30,366.80 L264.55,366.80 L264.80,366.80 L265.05,366.80 L265.30,366.80 L265.55,366.80 L265.80,366.80 L266.05,366.80 L266.30,366.80 L266.55,366.80 L266.80,366.80 L267.05,366.80 L267.30,366.80 L267.55,366.80 L267.80,366.80 L268.05,366.80 L268.30,366.80 L268.55,366.80 L268.80,366.80 L269.05,366.80 L269.30,366.80 L269.55,366.80 L269.80,366.80 L270.05,366.80 L270.30,366.80 L270.55,366.80 L270.80,366.80 L271.05,366.80 L271.30,366.80 L271.55,366.80 L271.80,366.80 L272.05,366.80 L272.30,366.80 L272.55,366.80 L272.80,366.80 L273.05,366.80 L273.30,366.80 L273.55,366.80 L273.80,366.80 L274.05,366.80 L274.30,366.80 L274.55,366.80 L274.80,366.80 L275.05,366.80 L275.30,366.80 L275.55,366.80 L275.80,366.80 L276.05,366.80 L276.30,366.80 L276.55,366.80 L276.80,366.80 L277.05,366.80 L277.30,366.80 L277.55,366.80 L277.80,366.80 L278.05,366.80 L278.30,366.80 L278.55,366.80 L278.80,366.80 L279.05,366.80 L279.30,366.80 L279.55,366.80 L279.80,366.80 L280.05,366.80 L280.30,366.80 L280.55,366.80 L280.80,366.80 L281.05,366.80 L281.30,366.80 L281.55,366.80 L281.80,366.80 L282.05,366.80 L282.30,366.80 L282.55,366.80 L282.80,366.80 L283.05,366.80 L283.30,366.80 L283.55,366.80 L283.80,366.80 L284.05,366.80 L284.30,366.80 L284.55,366.80 L284.80,366.80 L285.05,366.80 L285.30,366.80 L285.55,366.80 L285.80,366.80 L286.05,366.80 L286.30,366.80 L286.55,366.80 L286.80,366.80 L287.05,366.80 L287.30,366.80 L287.55,366.80 L287.80,366.80 L288.05,366.80 L288.30,366.80 L288.55,366.80 L288.80,366.80 L289.05,366.80 L289.30,366.80 L289.55,366.80 L289.80,366.80 L290.05,366.80 L290.30,366.80 L290.55,366.80 L290.80,366.80 L291.05,366.80 L291.30,366.80 L291.55,366.80 L291.80,366.80 L292.05,366.80 L292.30,366.80 L292.55,366.80 L292.80,366.80 L293.05,366.80 L293.30,366.80 L293.55,366.80 L293.80,366.80 L294.05,366.80 L294.30,366.80 L294.55,366.80 L294.80,366.80 L295.05,366.80 L295.30,366.80 L295.55,366.80 L295.80,366.80 L296.05,366.80 L296.30,366.80 L296.55,366.80 L296.80,366.80 L297.05,366.80 L297.30,366.80 L297.55,366.80 L297.80,366.80 L298.05,366.80 L298.30,366.80 L298.55,366.80 L298.80,366.80 L299.05,366.80 L299.30,366.80 L299.55,366.80 L299.80,366.80 L300.05,366.80 L300.30,366.80 L300.55,366.80 L300.80,366.80 L301.05,366.80 L301.30,366.80 L301.55,366.80 L301.80,366.80 L302.05,366.80 L302.30,366.80 L302.55,366.80 L302.80,366.80 L303.05,366.80 L303.30,366.80 L303.55,366.80 L303.80,366.80 L304.05,366.80 L304.30,366.80 L304.55,366.80 L304.80,366.80 L305.05,366.80 L305.30,366.80 L305.55,366.80 L305.80,366.80 L306.05,366.80 L306.30,366.80 L306.55,366.80 L306.80,366.80 L307.05,366.80 L307.30,366.80 L307.55,366.80 L307.80,366.80 L308.05,366.80 L308.30,366.80 L308.55,366.80 L308.80,366.80 L309.05,366.80 L309.30,366.80 L309.55,366.80 L309.80,366.80 L310.05,366.80 L310.30,366.80 L310.55,366.80 L310.80,366.80 L311.05,366.80 L311.30,366.80 L311.55,366.80 L311.80,366.80 L312.05,366.80 L312.30,366.80 L312.55,366.80 L312.80,366.80 L313.05,366.80 L313.30,366.80 L313.55,366.80 L313.80,366.80 L314.05,366.80 L314.30,366.80 L314.55,366.80 L314.80,366.80 L315.05,366.80 L315.30,366.80 L315.55,366.80 L315.80,366.80 L316.05,366.80 L316.30,366.80 L316.55,366.80 L316.80,366.80 L317.05,366.80 L317.30,366.80 L317.55,366.80" fill="none" stroke="#16296c" stroke-width="2.3" stroke-linejoin="round"/>
<path d="M71.80,415.20 L72.05,415.20 L72.30,415.20 L72.55,415.20 L72.80,415.20 L73.05,415.20 L73.30,415.20 L73.55,415.20 L73.80,415.20 L74.05,415.20 L74.30,415.20 L74.55,415.20 L74.80,415.20 L75.05,415.20 L75.30,415.20 L75.55,415.20 L75.80,415.20 L76.05,415.20 L76.30,415.20 L76.55,415.20 L76.80,415.20 L77.05,415.20 L77.30,415.20 L77.55,415.20 L77.80,415.20 L78.05,415.20 L78.30,415.20 L78.55,415.20 L78.80,415.20 L79.05,415.20 L79.30,415.20 L79.55,415.20 L79.80,415.20 L80.05,415.20 L80.30,415.20 L80.55,415.20 L80.80,415.20 L81.05,415.20 L81.30,415.20 L81.55,415.20 L81.80,415.20 L82.05,415.20 L82.30,415.20 L82.55,415.20 L82.80,415.20 L83.05,415.20 L83.30,415.20 L83.55,415.20 L83.80,415.20 L84.05,415.20 L84.30,415.20 L84.55,415.20 L84.80,415.20 L85.05,415.20 L85.30,415.20 L85.55,415.20 L85.80,415.20 L86.05,415.20 L86.30,415.20 L86.55,415.20 L86.80,415.20 L87.05,415.20 L87.30,415.20 L87.55,415.20 L87.80,415.20 L88.05,415.20 L88.30,415.20 L88.55,415.20 L88.80,415.20 L89.05,415.20 L89.30,415.20 L89.55,415.20 L89.80,415.20 L90.05,415.20 L90.30,415.20 L90.55,415.20 L90.80,415.20 L91.05,415.20 L91.30,415.20 L91.55,415.20 L91.80,415.20 L92.05,415.20 L92.30,415.20 L92.55,415.20 L92.80,415.20 L93.05,415.20 L93.30,415.20 L93.55,415.20 L93.80,415.20 L94.05,415.20 L94.30,415.20 L94.55,415.20 L94.80,415.20 L95.05,415.20 L95.30,415.20 L95.55,415.20 L95.80,415.20 L96.05,415.20 L96.30,415.20 L96.55,415.20 L96.80,415.20 L97.05,415.20 L97.30,415.20 L97.55,415.20 L97.80,415.20 L98.05,415.20 L98.30,415.20 L98.55,415.20 L98.80,415.20 L99.05,415.20 L99.30,415.20 L99.55,415.20 L99.80,415.20 L100.05,415.20 L100.30,415.20 L100.55,415.20 L100.80,415.20 L101.05,415.20 L101.30,415.20 L101.55,415.20 L101.80,415.20 L102.05,415.20 L102.30,415.20 L102.55,415.20 L102.80,415.20 L103.05,415.20 L103.30,415.20 L103.55,415.20 L103.80,415.20 L104.05,415.20 L104.30,415.20 L104.55,415.20 L104.80,415.20 L105.05,415.20 L105.30,415.20 L105.55,415.20 L105.80,415.20 L106.05,415.20 L106.30,415.20 L106.55,415.20 L106.80,415.20 L107.05,415.20 L107.30,415.20 L107.55,415.20 L107.80,415.20 L108.05,415.20 L108.30,415.20 L108.55,415.20 L108.80,415.20 L109.05,415.20 L109.30,415.20 L109.55,415.20 L109.80,415.20 L110.05,415.20 L110.30,415.20 L110.55,415.20 L110.80,415.20 L111.05,415.20 L111.30,415.20 L111.55,415.20 L111.80,415.20 L112.05,415.20 L112.30,415.20 L112.55,415.20 L112.80,415.20 L113.05,415.20 L113.30,415.20 L113.55,415.20 L113.80,415.20 L114.05,415.20 L114.30,415.20 L114.55,415.20 L114.80,415.20 L115.05,415.20 L115.30,415.20 L115.55,415.20 L115.80,415.20 L116.05,415.20 L116.30,415.20 L116.55,415.20 L116.80,415.20 L117.05,415.20 L117.30,415.20 L117.55,415.20 L117.80,415.20 L118.05,415.20 L118.30,415.20 L118.55,415.20 L118.80,415.20 L119.05,415.20 L119.30,415.20 L119.55,415.20 L119.80,415.20 L120.05,415.20 L120.30,415.20 L120.55,415.20 L120.80,415.20 L121.05,415.20 L121.30,415.20 L121.55,415.20 L121.80,415.20 L122.05,415.20 L122.30,415.20 L122.55,415.20 L122.80,415.20 L123.05,415.20 L123.30,415.20 L123.55,415.20 L123.80,415.20 L124.05,415.20 L124.30,415.20 L124.55,415.20 L124.80,415.20 L125.05,415.20 L125.30,415.20 L125.55,415.20 L125.80,415.20 L126.05,415.20 L126.30,415.20 L126.55,415.20 L126.80,415.20 L127.05,415.20 L127.30,415.20 L127.55,415.20 L127.80,415.20 L128.05,415.20 L128.30,415.20 L128.55,415.20 L128.80,415.20 L129.05,415.20 L129.30,415.20 L129.55,415.20 L129.80,415.20 L130.05,415.20 L130.30,415.20 L130.55,415.20 L130.80,415.20 L131.05,415.20 L131.30,415.20 L131.55,415.20 L131.80,415.20 L132.05,415.20 L132.30,415.20 L132.55,415.20 L132.80,415.20 L133.05,415.20 L133.30,415.20 L133.55,415.20 L133.80,415.20 L134.05,415.20 L134.30,415.20 L134.55,415.20 L134.80,415.20 L135.05,415.20 L135.30,415.20 L135.55,415.20 L135.80,415.20 L136.05,415.20 L136.30,415.20 L136.55,415.20 L136.80,415.20 L137.05,415.20 L137.30,415.20 L137.55,415.20 L137.80,415.20 L138.05,415.20 L138.30,415.20 L138.55,415.20 L138.80,415.20 L139.05,415.20 L139.30,415.20 L139.55,415.20 L139.80,415.20 L140.05,415.20 L140.30,415.20 L140.55,415.20 L140.80,415.20 L141.05,415.20 L141.30,415.20 L141.55,415.20 L141.80,415.20 L142.05,415.20 L142.30,415.20 L142.55,415.20 L142.80,415.20 L143.05,415.20 L143.30,415.20 L143.55,415.20 L143.80,415.20 L144.05,415.20 L144.30,415.20 L144.55,415.20 L144.80,415.20 L145.05,415.20 L145.30,415.20 L145.55,415.20 L145.80,415.20 L146.05,415.20 L146.30,415.20 L146.55,415.20 L146.80,415.20 L147.05,415.20 L147.30,415.20 L147.55,415.20 L147.80,415.20 L148.05,415.20 L148.30,415.20 L148.55,415.20 L148.80,415.20 L149.05,415.20 L149.30,415.20 L149.55,415.20 L149.80,415.20 L150.05,415.20 L150.30,415.20 L150.55,415.20 L150.80,415.20 L151.05,415.20 L151.30,415.20 L151.55,415.20 L151.80,415.20 L152.05,415.20 L152.30,415.20 L152.55,415.20 L152.80,415.20 L153.05,415.20 L153.30,415.20 L153.55,415.20 L153.80,415.20 L154.05,415.20 L154.30,415.20 L154.55,415.20 L154.80,415.20 L155.05,415.20 L155.30,415.20 L155.55,415.20 L155.80,415.20 L156.05,415.20 L156.30,415.20 L156.55,415.20 L156.80,415.20 L157.05,415.20 L157.30,415.20 L157.55,415.20 L157.80,415.20 L158.05,415.20 L158.30,415.20 L158.55,415.20 L158.80,415.20 L159.05,415.20 L159.30,415.20 L159.55,415.20 L159.80,415.20 L160.05,415.20 L160.30,415.20 L160.55,415.20 L160.80,415.20 L161.05,415.20 L161.30,415.20 L161.55,415.20 L161.80,415.20 L162.05,415.20 L162.30,415.20 L162.55,415.20 L162.80,415.20 L163.05,415.20 L163.30,415.20 L163.55,415.20 L163.80,415.20 L164.05,415.20 L164.30,415.20 L164.55,415.20 L164.80,415.20 L165.05,415.20 L165.30,415.20 L165.55,415.20 L165.80,415.20 L166.05,415.20 L166.30,415.20 L166.55,415.20 L166.80,415.20 L167.05,415.20 L167.30,415.20 L167.55,415.20 L167.80,415.20 L168.05,415.20 L168.30,415.20 L168.55,415.20 L168.80,415.20 L169.05,415.20 L169.30,415.20 L169.55,415.20 L169.80,415.20 L170.05,415.20 L170.30,415.20 L170.55,415.20 L170.80,415.20 L171.05,415.20 L171.30,415.20 L171.55,415.20 L171.80,415.20 L172.05,415.20 L172.30,415.20 L172.55,415.20 L172.80,415.20 L173.05,415.20 L173.30,415.20 L173.55,415.20 L173.80,415.20 L174.05,415.20 L174.30,415.20 L174.55,415.20 L174.80,415.20 L175.05,415.20 L175.30,415.20 L175.55,415.20 L175.80,415.20 L176.05,415.20 L176.30,415.20 L176.55,415.20 L176.80,415.20 L177.05,415.20 L177.30,415.20 L177.55,415.20 L177.80,415.20 L178.05,415.20 L178.30,415.20 L178.55,415.20 L178.80,415.20 L179.05,415.20 L179.30,415.20 L179.55,415.20 L179.80,415.20 L180.05,415.20 L180.30,415.20 L180.55,415.20 L180.80,415.20 L181.05,415.20 L181.30,415.20 L181.55,415.20 L181.80,415.20 L182.05,415.20 L182.30,415.20 L182.55,415.20 L182.80,415.20 L183.05,415.20 L183.30,415.20 L183.55,415.20 L183.80,415.20 L184.05,415.20 L184.30,415.20 L184.55,415.20 L184.80,415.20 L185.05,415.20 L185.30,415.20 L185.55,415.20 L185.80,415.20 L186.05,415.20 L186.30,415.20 L186.55,415.20 L186.80,415.20 L187.05,415.20 L187.30,415.20 L187.55,415.20 L187.80,415.20 L188.05,415.20 L188.30,415.20 L188.55,415.20 L188.80,415.20 L189.05,415.20 L189.30,415.20 L189.55,415.20 L189.80,415.20 L190.05,415.20 L190.30,415.20 L190.55,415.20 L190.80,415.20 L191.05,415.20 L191.30,415.20 L191.55,415.20 L191.80,415.20 L192.05,415.20 L192.30,415.20 L192.55,415.20 L192.80,415.20 L193.05,415.20 L193.30,415.20 L193.55,415.20 L193.80,415.20 L194.05,415.20 L194.30,415.20 L194.55,415.20 L194.80,415.20 L195.05,415.20 L195.30,415.20 L195.55,415.20 L195.80,415.20 L196.05,415.20 L196.30,415.20 L196.55,415.20 L196.80,415.20 L197.05,415.20 L197.30,415.20 L197.55,415.20 L197.80,415.20 L198.05,415.20 L198.30,415.20 L198.55,415.20 L198.80,415.20 L199.05,415.20 L199.30,415.20 L199.55,415.20 L199.80,415.20 L200.05,415.20 L200.30,415.20 L200.55,415.20 L200.80,415.20 L201.05,415.20 L201.30,415.20 L201.55,415.19 L201.80,415.19 L202.05,415.19 L202.30,415.19 L202.55,415.19 L202.80,415.19 L203.05,415.19 L203.30,415.19 L203.55,415.19 L203.80,415.18 L204.05,415.18 L204.30,415.18 L204.55,415.17 L204.80,415.15 L205.05,415.09 L205.30,414.88 L205.55,414.39 L205.80,413.58 L206.05,412.85 L206.30,412.77 L206.55,413.41 L206.80,414.24 L207.05,414.81 L207.30,415.06 L207.55,415.14 L207.80,415.16 L208.05,415.17 L208.30,415.18 L208.55,415.18 L208.80,415.18 L209.05,415.19 L209.30,415.19 L209.55,415.19 L209.80,415.19 L210.05,415.19 L210.30,415.19 L210.55,415.19 L210.80,415.19 L211.05,415.19 L211.30,415.19 L211.55,415.18 L211.80,415.18 L212.05,415.18 L212.30,415.18 L212.55,415.17 L212.80,415.16 L213.05,415.12 L213.30,414.99 L213.55,414.63 L213.80,413.93 L214.05,413.09 L214.30,412.70 L214.55,413.09 L214.80,413.93 L215.05,414.63 L215.30,414.99 L215.55,415.12 L215.80,415.16 L216.05,415.17 L216.30,415.18 L216.55,415.18 L216.80,415.18 L217.05,415.19 L217.30,415.19 L217.55,415.19 L217.80,415.19 L218.05,415.19 L218.30,415.19 L218.55,415.19 L218.80,415.19 L219.05,415.19 L219.30,415.19 L219.55,415.20 L219.80,415.20 L220.05,415.20 L220.30,415.20 L220.55,415.20 L220.80,415.20 L221.05,415.20 L221.30,415.20 L221.55,415.20 L221.80,415.20 L222.05,415.20 L222.30,415.20 L222.55,415.20 L222.80,415.20 L223.05,415.20 L223.30,415.20 L223.55,415.20 L223.80,415.20 L224.05,415.20 L224.30,415.20 L224.55,415.20 L224.80,415.20 L225.05,415.20 L225.30,415.20 L225.55,415.20 L225.80,415.20 L226.05,415.20 L226.30,415.20 L226.55,415.20 L226.80,415.20 L227.05,415.20 L227.30,415.20 L227.55,415.20 L227.80,415.20 L228.05,415.20 L228.30,415.20 L228.55,415.20 L228.80,415.20 L229.05,415.20 L229.30,415.20 L229.55,415.20 L229.80,415.20 L230.05,415.20 L230.30,415.20 L230.55,415.20 L230.80,415.20 L231.05,415.20 L231.30,415.20 L231.55,415.20 L231.80,415.20 L232.05,415.20 L232.30,415.20 L232.55,415.20 L232.80,415.20 L233.05,415.20 L233.30,415.20 L233.55,415.20 L233.80,415.20 L234.05,415.20 L234.30,415.20 L234.55,415.20 L234.80,415.20 L235.05,415.20 L235.30,415.20 L235.55,415.20 L235.80,415.20 L236.05,415.20 L236.30,415.20 L236.55,415.20 L236.80,415.20 L237.05,415.20 L237.30,415.20 L237.55,415.20 L237.80,415.20 L238.05,415.20 L238.30,415.20 L238.55,415.20 L238.80,415.20 L239.05,415.20 L239.30,415.20 L239.55,415.20 L239.80,415.20 L240.05,415.20 L240.30,415.20 L240.55,415.20 L240.80,415.20 L241.05,415.20 L241.30,415.20 L241.55,415.20 L241.80,415.20 L242.05,415.20 L242.30,415.20 L242.55,415.20 L242.80,415.20 L243.05,415.20 L243.30,415.20 L243.55,415.20 L243.80,415.20 L244.05,415.20 L244.30,415.20 L244.55,415.20 L244.80,415.20 L245.05,415.20 L245.30,415.20 L245.55,415.20 L245.80,415.20 L246.05,415.20 L246.30,415.20 L246.55,415.20 L246.80,415.20 L247.05,415.20 L247.30,415.19 L247.55,415.19 L247.80,415.19 L248.05,415.19 L248.30,415.19 L248.55,415.19 L248.80,415.19 L249.05,415.19 L249.30,415.19 L249.55,415.19 L249.80,415.19 L250.05,415.19 L250.30,415.19 L250.55,415.19 L250.80,415.19 L251.05,415.19 L251.30,415.19 L251.55,415.19 L251.80,415.19 L252.05,415.19 L252.30,415.19 L252.55,415.19 L252.80,415.19 L253.05,415.19 L253.30,415.19 L253.55,415.19 L253.80,415.19 L254.05,415.19 L254.30,415.19 L254.55,415.19 L254.80,415.19 L255.05,415.19 L255.30,415.19 L255.55,415.19 L255.80,415.19 L256.05,415.19 L256.30,415.19 L256.55,415.19 L256.80,415.19 L257.05,415.19 L257.30,415.19 L257.55,415.19 L257.80,415.19 L258.05,415.19 L258.30,415.19 L258.55,415.19 L258.80,415.19 L259.05,415.19 L259.30,415.19 L259.55,415.18 L259.80,415.18 L260.05,415.18 L260.30,415.18 L260.55,415.18 L260.80,415.18 L261.05,415.18 L261.30,415.18 L261.55,415.18 L261.80,415.18 L262.05,415.18 L262.30,415.18 L262.55,415.18 L262.80,415.18 L263.05,415.17 L263.30,415.17 L263.55,415.17 L263.80,415.17 L264.05,415.17 L264.30,415.17 L264.55,415.17 L264.80,415.17 L265.05,415.16 L265.30,415.16 L265.55,415.16 L265.80,415.16 L266.05,415.16 L266.30,415.15 L266.55,415.15 L266.80,415.15 L267.05,415.15 L267.30,415.14 L267.55,415.14 L267.80,415.14 L268.05,415.13 L268.30,415.13 L268.55,415.12 L268.80,415.12 L269.05,415.11 L269.30,415.10 L269.55,415.09 L269.80,415.08 L270.05,415.07 L270.30,415.06 L270.55,415.05 L270.80,415.03 L271.05,415.01 L271.30,414.99 L271.55,414.97 L271.80,414.94 L272.05,414.90 L272.30,414.85 L272.55,414.78 L272.80,414.67 L273.05,414.45 L273.30,414.02 L273.55,413.17 L273.80,411.58 L274.05,408.91 L274.30,404.88 L274.55,399.56 L274.80,393.51 L275.05,387.84 L275.30,383.95 L275.55,382.97 L275.80,385.21 L276.05,389.98 L276.30,395.96 L276.55,401.82 L276.80,406.66 L277.05,410.13 L277.30,412.32 L277.55,413.58 L277.80,414.23 L278.05,414.56 L278.30,414.72 L278.55,414.81 L278.80,414.87 L279.05,414.92 L279.30,414.95 L279.55,414.98 L279.80,415.00 L280.05,415.02 L280.30,415.04 L280.55,415.05 L280.80,415.07 L281.05,415.08 L281.30,415.09 L281.55,415.10 L281.80,415.10 L282.05,415.11 L282.30,415.12 L282.55,415.12 L282.80,415.13 L283.05,415.13 L283.30,415.14 L283.55,415.14 L283.80,415.14 L284.05,415.15 L284.30,415.15 L284.55,415.15 L284.80,415.16 L285.05,415.16 L285.30,415.16 L285.55,415.16 L285.80,415.16 L286.05,415.17 L286.30,415.17 L286.55,415.17 L286.80,415.17 L287.05,415.17 L287.30,415.17 L287.55,415.17 L287.80,415.17 L288.05,415.18 L288.30,415.18 L288.55,415.18 L288.80,415.18 L289.05,415.18 L289.30,415.18 L289.55,415.18 L289.80,415.18 L290.05,415.18 L290.30,415.18 L290.55,415.18 L290.80,415.18 L291.05,415.18 L291.30,415.18 L291.55,415.18 L291.80,415.19 L292.05,415.19 L292.30,415.19 L292.55,415.19 L292.80,415.19 L293.05,415.19 L293.30,415.19 L293.55,415.19 L293.80,415.19 L294.05,415.19 L294.30,415.19 L294.55,415.19 L294.80,415.19 L295.05,415.19 L295.30,415.19 L295.55,415.19 L295.80,415.19 L296.05,415.19 L296.30,415.19 L296.55,415.19 L296.80,415.19 L297.05,415.19 L297.30,415.19 L297.55,415.19 L297.80,415.19 L298.05,415.19 L298.30,415.19 L298.55,415.19 L298.80,415.19 L299.05,415.19 L299.30,415.19 L299.55,415.19 L299.80,415.19 L300.05,415.19 L300.30,415.19 L300.55,415.19 L300.80,415.19 L301.05,415.19 L301.30,415.19 L301.55,415.19 L301.80,415.19 L302.05,415.19 L302.30,415.19 L302.55,415.19 L302.80,415.19 L303.05,415.19 L303.30,415.19 L303.55,415.20 L303.80,415.20 L304.05,415.20 L304.30,415.20 L304.55,415.20 L304.80,415.20 L305.05,415.20 L305.30,415.20 L305.55,415.20 L305.80,415.20 L306.05,415.20 L306.30,415.20 L306.55,415.20 L306.80,415.20 L307.05,415.20 L307.30,415.20 L307.55,415.20 L307.80,415.20 L308.05,415.20 L308.30,415.20 L308.55,415.20 L308.80,415.20 L309.05,415.20 L309.30,415.20 L309.55,415.20 L309.80,415.20 L310.05,415.20 L310.30,415.20 L310.55,415.20 L310.80,415.20 L311.05,415.20 L311.30,415.20 L311.55,415.20 L311.80,415.20 L312.05,415.20 L312.30,415.20 L312.55,415.20 L312.80,415.20 L313.05,415.20 L313.30,415.20 L313.55,415.20 L313.80,415.20 L314.05,415.20 L314.30,415.20 L314.55,415.20 L314.80,415.20 L315.05,415.20 L315.30,415.20 L315.55,415.20 L315.80,415.20 L316.05,415.20 L316.30,415.20 L316.55,415.20 L316.80,415.20 L317.05,415.20 L317.30,415.20 L317.55,415.20" fill="none" stroke="#6a31a2" stroke-width="2.1" stroke-linejoin="round"/>
<text x="318.2" y="210.6" font-size="16.5" text-anchor="end" fill="#e07a80" >H1</text>
<text x="318.2" y="261.3" font-size="16.5" text-anchor="end" fill="#2a6fb2" >H2</text>
<text x="318.2" y="310.2" font-size="16.5" text-anchor="end" fill="#2a9c60" >H3</text>
<text x="318.2" y="362.6" font-size="16.5" text-anchor="end" fill="#1b2b6b" >H4</text>
<text x="318.2" y="412.1" font-size="16.5" text-anchor="end" fill="#6a3a9a" >H5</text>
<text x="134.4" y="184.1" font-size="11" text-anchor="start" fill="#000" >5153.57</text>
<line x1="118.50" y1="186.20" x2="132.60" y2="180.00" stroke="#000" stroke-width="1.6" />
<text x="69.8" y="235.0" font-size="11" text-anchor="start" fill="#000" >3667.50</text>
<line x1="83.20" y1="237.00" x2="93.20" y2="243.90" stroke="#000" stroke-width="1.6" />
<text x="125.7" y="239.7" font-size="11" text-anchor="start" fill="#000" >4582.40</text>
<line x1="111.50" y1="241.20" x2="125.40" y2="235.60" stroke="#000" stroke-width="1.6" />
<text x="176.9" y="285.6" font-size="11" text-anchor="start" fill="#000" >8220.55</text>
<line x1="160.60" y1="288.30" x2="173.70" y2="282.90" stroke="#000" stroke-width="1.6" />
<text x="115.9" y="299.0" font-size="11" text-anchor="start" fill="#000" >6770.60</text>
<line x1="128.00" y1="301.10" x2="134.90" y2="306.30" stroke="#000" stroke-width="1.6" />
<text x="164.5" y="335.0" font-size="11" text-anchor="start" fill="#000" >7299.61</text>
<line x1="148.20" y1="337.60" x2="161.70" y2="332.00" stroke="#000" stroke-width="1.6" />
<text x="152.0" y="350.1" font-size="11" text-anchor="start" fill="#000" >8799.20</text>
<text x="199.0" y="356.3" font-size="11" text-anchor="start" fill="#000" >12427.54</text>
<text x="256.1" y="344.5" font-size="11" text-anchor="start" fill="#000" >15491.70</text>
<line x1="263.70" y1="349.00" x2="256.80" y2="361.50" stroke="#000" stroke-width="1.6" />
<text x="279.0" y="386.5" font-size="11" text-anchor="start" fill="#000" >16990.90</text>
<line x1="280.20" y1="394.10" x2="291.70" y2="389.30" stroke="#000" stroke-width="1.6" />
<text x="167.8" y="401.5" font-size="11" text-anchor="start" fill="#000" >11843.17</text>
<line x1="197.30" y1="403.90" x2="205.00" y2="410.70" stroke="#000" stroke-width="1.6" />
<text x="212.4" y="393.5" font-size="11" text-anchor="start" fill="#000" >12427.54</text>
<line x1="223.20" y1="396.20" x2="214.50" y2="410.70" stroke="#000" stroke-width="1.6" />
<text x="229.7" y="404.7" font-size="11" text-anchor="start" fill="#000" >15491.70</text>
<line x1="258.50" y1="407.60" x2="256.80" y2="412.20" stroke="#000" stroke-width="1.6" />
<text transform="translate(112.6,438.2) scale(1,0.92)" font-size="16" text-anchor="end">4000</text>
<text transform="translate(167.8,438.2) scale(1,0.92)" font-size="16" text-anchor="end">8000</text>
<text transform="translate(221.3,438.2) scale(1,0.92)" font-size="16" text-anchor="end">12000</text>
<text transform="translate(274.7,438.2) scale(1,0.92)" font-size="16" text-anchor="end">16000</text>
<text transform="translate(328.7,438.2) scale(1,0.92)" font-size="16" text-anchor="end">20000</text>
<text x="200.0" y="457.8" font-size="22" text-anchor="middle" fill="#000" font-style="italic">m/z</text>
<text x="351.8" y="25.2" font-size="30" text-anchor="start" fill="#000" >C</text>
<line x1="442.00" y1="10.30" x2="442.00" y2="168.60" stroke="#000" stroke-width="1.6" />
<line x1="441.20" y1="167.80" x2="663.60" y2="167.80" stroke="#000" stroke-width="1.6" />
<line x1="438.30" y1="164.30" x2="442.00" y2="164.30" stroke="#000" stroke-width="1.6" />
<line x1="438.30" y1="113.24" x2="442.00" y2="113.24" stroke="#000" stroke-width="1.6" />
<line x1="438.30" y1="62.17" x2="442.00" y2="62.17" stroke="#000" stroke-width="1.6" />
<line x1="438.30" y1="11.11" x2="442.00" y2="11.11" stroke="#000" stroke-width="1.6" />
<line x1="440.00" y1="138.77" x2="442.00" y2="138.77" stroke="#000" stroke-width="1.4" />
<line x1="440.00" y1="87.70" x2="442.00" y2="87.70" stroke="#000" stroke-width="1.4" />
<line x1="440.00" y1="36.64" x2="442.00" y2="36.64" stroke="#000" stroke-width="1.4" />
<line x1="442.00" y1="167.80" x2="442.00" y2="171.30" stroke="#000" stroke-width="1.6" />
<line x1="497.25" y1="167.80" x2="497.25" y2="171.30" stroke="#000" stroke-width="1.6" />
<line x1="552.50" y1="167.80" x2="552.50" y2="171.30" stroke="#000" stroke-width="1.6" />
<line x1="607.75" y1="167.80" x2="607.75" y2="171.30" stroke="#000" stroke-width="1.6" />
<line x1="663.00" y1="167.80" x2="663.00" y2="171.30" stroke="#000" stroke-width="1.6" />
<line x1="469.60" y1="167.80" x2="469.60" y2="170.00" stroke="#000" stroke-width="1.4" />
<line x1="524.85" y1="167.80" x2="524.85" y2="170.00" stroke="#000" stroke-width="1.4" />
<line x1="580.10" y1="167.80" x2="580.10" y2="170.00" stroke="#000" stroke-width="1.4" />
<line x1="635.35" y1="167.80" x2="635.35" y2="170.00" stroke="#000" stroke-width="1.4" />
<text x="435.6" y="16.6" font-size="17.2" text-anchor="end" fill="#000" >0.015</text>
<text x="435.6" y="67.7" font-size="17.2" text-anchor="end" fill="#000" >0.010</text>
<text x="435.6" y="118.7" font-size="17.2" text-anchor="end" fill="#000" >0.005</text>
<text x="435.6" y="169.8" font-size="17.2" text-anchor="end" fill="#000" >0.000</text>
<text x="442.0" y="189.2" font-size="16.5" text-anchor="middle" fill="#000" >0</text>
<text x="497.2" y="189.2" font-size="16.5" text-anchor="middle" fill="#000" >5</text>
<text x="552.5" y="189.2" font-size="16.5" text-anchor="middle" fill="#000" >10</text>
<text x="607.8" y="189.2" font-size="16.5" text-anchor="middle" fill="#000" >15</text>
<text x="663.0" y="189.2" font-size="16.5" text-anchor="middle" fill="#000" >20</text>
<text x="557.2" y="211.6" font-size="21.8" text-anchor="middle" fill="#000" >Time (min)</text>
<text transform="translate(387.6,91.3) rotate(-90)" font-size="22.8" text-anchor="middle">A405 nm</text>
<path d="M442.00,165.00 L564.00,98.50 L607.00,68.20 L640.00,40.30" fill="none" stroke="#111" stroke-width="1.55" stroke-linejoin="round"/>
<path d="M442.00,165.00 L553.50,126.40 L587.00,111.20 L609.00,94.00 L640.00,77.40" fill="none" stroke="#111" stroke-width="1.55" stroke-linejoin="round"/>
<path d="M442.00,165.00 L553.50,134.30 L608.00,111.50 L640.00,95.60" fill="none" stroke="#111" stroke-width="1.55" stroke-linejoin="round"/>
<path d="M442.00,165.00 L564.00,145.40 L640.00,125.30" fill="none" stroke="#111" stroke-width="1.55" stroke-linejoin="round"/>
<text x="643.6" y="38.4" font-size="11.2" text-anchor="start" fill="#000" >Ctrl</text>
<text x="643.4" y="79.2" font-size="11.2" text-anchor="start" fill="#e07a80" >H1</text>
<text x="643.4" y="98.7" font-size="11.2" text-anchor="start" fill="#2a9c60" >H3</text>
<text x="643.4" y="128.6" font-size="11.2" text-anchor="start" fill="#000" >Scpt</text>
<text x="353.4" y="271.2" font-size="28.5" text-anchor="start" fill="#000" >D</text>
<line x1="441.50" y1="266.80" x2="441.50" y2="432.70" stroke="#000" stroke-width="1.6" />
<line x1="440.80" y1="431.90" x2="665.40" y2="431.90" stroke="#000" stroke-width="1.6" />
<line x1="437.80" y1="430.10" x2="441.50" y2="430.10" stroke="#000" stroke-width="1.6" />
<line x1="437.80" y1="375.63" x2="441.50" y2="375.63" stroke="#000" stroke-width="1.6" />
<line x1="437.80" y1="321.17" x2="441.50" y2="321.17" stroke="#000" stroke-width="1.6" />
<line x1="437.80" y1="266.70" x2="441.50" y2="266.70" stroke="#000" stroke-width="1.6" />
<line x1="439.50" y1="402.87" x2="441.50" y2="402.87" stroke="#000" stroke-width="1.4" />
<line x1="439.50" y1="348.40" x2="441.50" y2="348.40" stroke="#000" stroke-width="1.4" />
<line x1="439.50" y1="293.93" x2="441.50" y2="293.93" stroke="#000" stroke-width="1.4" />
<line x1="441.50" y1="431.90" x2="441.50" y2="435.10" stroke="#000" stroke-width="1.5" />
<line x1="457.50" y1="431.90" x2="457.50" y2="434.10" stroke="#000" stroke-width="1.5" />
<line x1="473.50" y1="431.90" x2="473.50" y2="435.10" stroke="#000" stroke-width="1.5" />
<line x1="489.50" y1="431.90" x2="489.50" y2="434.10" stroke="#000" stroke-width="1.5" />
<line x1="505.50" y1="431.90" x2="505.50" y2="435.10" stroke="#000" stroke-width="1.5" />
<line x1="521.50" y1="431.90" x2="521.50" y2="434.10" stroke="#000" stroke-width="1.5" />
<line x1="537.50" y1="431.90" x2="537.50" y2="435.10" stroke="#000" stroke-width="1.5" />
<line x1="553.50" y1="431.90" x2="553.50" y2="434.10" stroke="#000" stroke-width="1.5" />
<line x1="569.50" y1="431.90" x2="569.50" y2="435.10" stroke="#000" stroke-width="1.5" />
<line x1="585.50" y1="431.90" x2="585.50" y2="434.10" stroke="#000" stroke-width="1.5" />
<line x1="601.50" y1="431.90" x2="601.50" y2="435.10" stroke="#000" stroke-width="1.5" />
<line x1="617.50" y1="431.90" x2="617.50" y2="434.10" stroke="#000" stroke-width="1.5" />
<line x1="633.50" y1="431.90" x2="633.50" y2="435.10" stroke="#000" stroke-width="1.5" />
<line x1="649.50" y1="431.90" x2="649.50" y2="434.10" stroke="#000" stroke-width="1.5" />
<line x1="665.50" y1="431.90" x2="665.50" y2="435.10" stroke="#000" stroke-width="1.5" />
<text x="431.9" y="272.8" font-size="18" text-anchor="end" fill="#000" >75</text>
<text x="431.9" y="327.3" font-size="18" text-anchor="end" fill="#000" >50</text>
<text x="431.9" y="381.7" font-size="18" text-anchor="end" fill="#000" >25</text>
<text x="431.9" y="436.2" font-size="18" text-anchor="end" fill="#000" >0</text>
<text transform="translate(387.2,347.1) rotate(-90)" font-size="21.8" text-anchor="middle">Inhibition (%)</text>
<rect x="464.00" y="429.45" width="19.6" height="2.45" fill="none" stroke="#707070" stroke-width="1.5"/>
<rect x="495.80" y="295.02" width="19.6" height="136.88" fill="none" stroke="#444" stroke-width="1.5"/>
<line x1="505.60" y1="286.40" x2="505.60" y2="303.60" stroke="#222" stroke-width="1.7" />
<line x1="502.60" y1="286.40" x2="508.60" y2="286.40" stroke="#222" stroke-width="1.7" />
<line x1="502.60" y1="303.60" x2="508.60" y2="303.60" stroke="#222" stroke-width="1.7" />
<rect x="527.90" y="357.77" width="19.6" height="74.13" fill="none" stroke="#444" stroke-width="1.5"/>
<line x1="537.70" y1="345.20" x2="537.70" y2="370.80" stroke="#222" stroke-width="1.7" />
<line x1="534.70" y1="345.20" x2="540.70" y2="345.20" stroke="#222" stroke-width="1.7" />
<line x1="534.70" y1="370.80" x2="540.70" y2="370.80" stroke="#222" stroke-width="1.7" />
<rect x="559.70" y="368.88" width="19.6" height="63.02" fill="none" stroke="#444" stroke-width="1.5"/>
<line x1="569.50" y1="360.40" x2="569.50" y2="377.30" stroke="#222" stroke-width="1.7" />
<line x1="566.50" y1="360.40" x2="572.50" y2="360.40" stroke="#222" stroke-width="1.7" />
<line x1="566.50" y1="377.30" x2="572.50" y2="377.30" stroke="#222" stroke-width="1.7" />
<rect x="591.80" y="332.28" width="19.6" height="99.62" fill="none" stroke="#444" stroke-width="1.5"/>
<line x1="601.60" y1="321.30" x2="601.60" y2="342.60" stroke="#222" stroke-width="1.7" />
<line x1="598.60" y1="321.30" x2="604.60" y2="321.30" stroke="#222" stroke-width="1.7" />
<line x1="598.60" y1="342.60" x2="604.60" y2="342.60" stroke="#222" stroke-width="1.7" />
<rect x="623.60" y="319.20" width="19.6" height="112.70" fill="none" stroke="#444" stroke-width="1.5"/>
<line x1="633.40" y1="304.00" x2="633.40" y2="333.90" stroke="#222" stroke-width="1.7" />
<line x1="630.40" y1="304.00" x2="636.40" y2="304.00" stroke="#222" stroke-width="1.7" />
<line x1="630.40" y1="333.90" x2="636.40" y2="333.90" stroke="#222" stroke-width="1.7" />
<path d="M504.5,262.6 L504.5,256.4 L633.4,256.4 L633.4,280.8 M595.4,256.4 L595.4,280.8" fill="none" stroke="#333" stroke-width="1.4"/>
<path d="M504.5,280.4 L504.5,272.6 L568.3,272.6 L568.3,345.3 M537.0,272.6 L537.0,323.8" fill="none" stroke="#333" stroke-width="1.4"/>
<path d="M533.20,266.40 L535.80,266.40 M533.02,266.82 L534.86,268.66 M532.60,267.00 L532.60,269.60 M532.18,266.82 L530.34,268.66 M532.00,266.40 L529.40,266.40 M532.18,265.98 L530.34,264.14 M532.60,265.80 L532.60,263.20 M533.02,265.98 L534.86,264.14 " stroke="#2a2a2a" stroke-width="1.1" fill="none"/>
<path d="M541.20,266.40 L543.80,266.40 M541.02,266.82 L542.86,268.66 M540.60,267.00 L540.60,269.60 M540.18,266.82 L538.34,268.66 M540.00,266.40 L537.40,266.40 M540.18,265.98 L538.34,264.14 M540.60,265.80 L540.60,263.20 M541.02,265.98 L542.86,264.14 " stroke="#2a2a2a" stroke-width="1.1" fill="none"/>
<path d="M572.80,250.90 L575.40,250.90 M572.62,251.32 L574.46,253.16 M572.20,251.50 L572.20,254.10 M571.78,251.32 L569.94,253.16 M571.60,250.90 L569.00,250.90 M571.78,250.48 L569.94,248.64 M572.20,250.30 L572.20,247.70 M572.62,250.48 L574.46,248.64 " stroke="#2a2a2a" stroke-width="1.1" fill="none"/>
<text x="473.8" y="450.7" font-size="16.5" text-anchor="middle" fill="#000" >Crlt</text>
<text x="507.7" y="450.7" font-size="16.5" text-anchor="middle" fill="#000" >Scpt</text>
<text x="537.3" y="450.7" font-size="16.5" text-anchor="middle" fill="#e07a80" >H1</text>
<text x="570.0" y="450.7" font-size="16.5" text-anchor="middle" fill="#2a6fb2" >H2</text>
<text x="602.6" y="450.7" font-size="16.5" text-anchor="middle" fill="#2a9c60" >H3</text>
<text x="633.9" y="450.7" font-size="16.5" text-anchor="middle" fill="#1b2b6b" >H4</text>
</svg>
</body></html>
